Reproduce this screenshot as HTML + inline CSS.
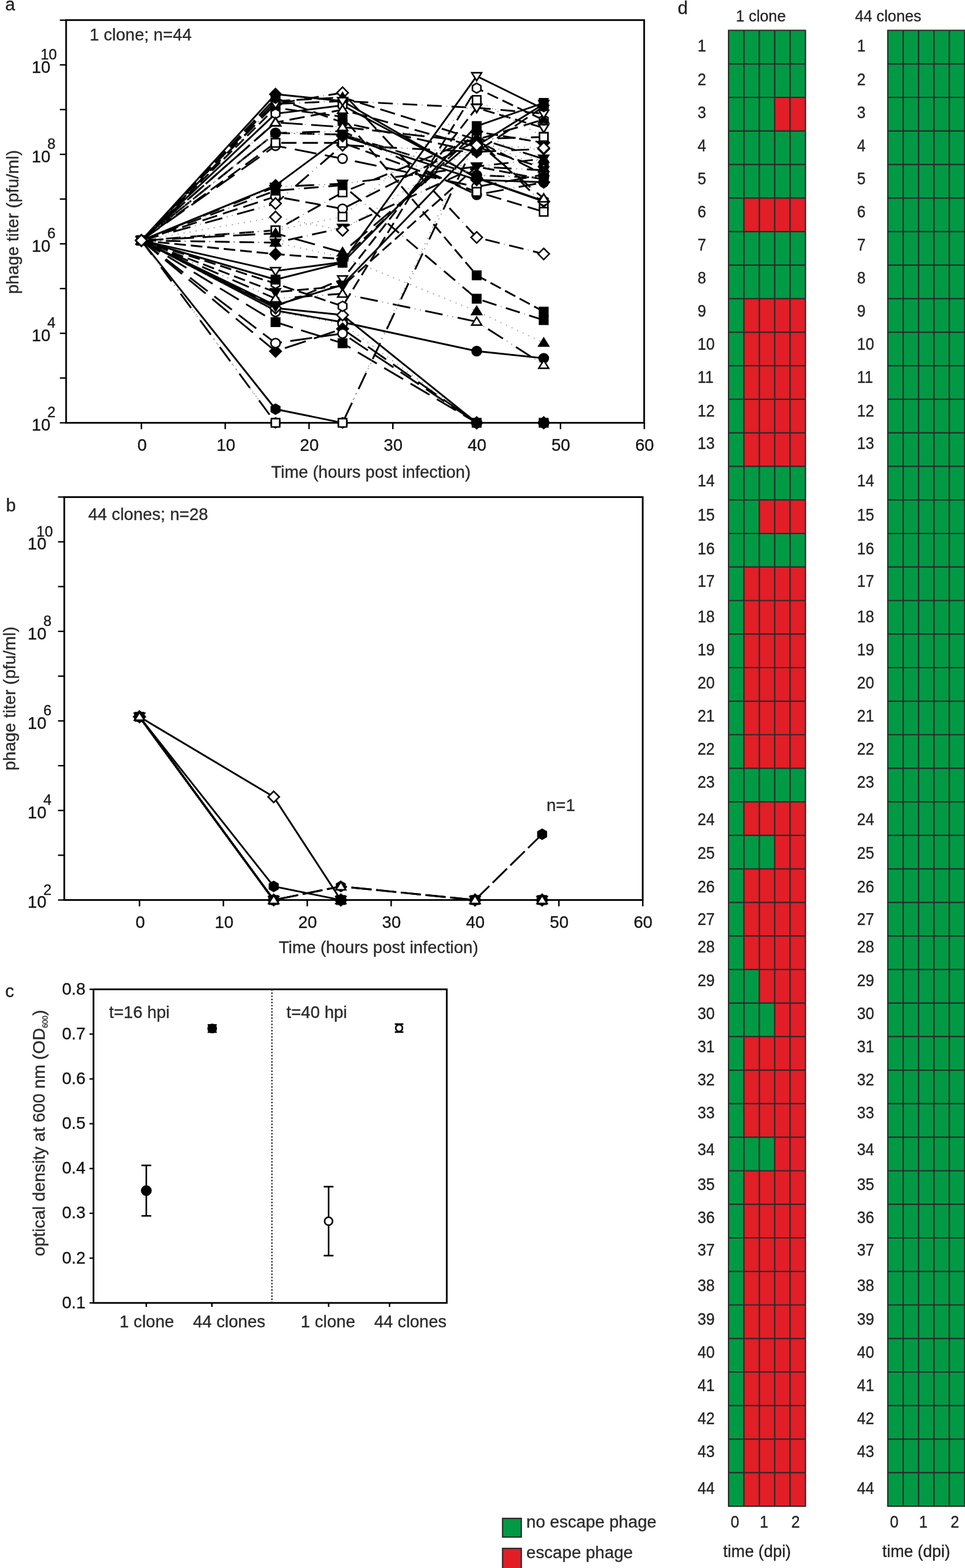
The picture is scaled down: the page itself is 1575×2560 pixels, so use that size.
<!DOCTYPE html>
<html lang="en">
<head>
<meta charset="utf-8">
<title>Figure: phage titer, optical density and escape phage</title>
<style>
html,body{margin:0;padding:0;background:#fff;}
body{width:1575px;height:2560px;overflow:hidden;}
svg{display:block;font-family:"Liberation Sans",Arial,sans-serif;}
text{stroke:#2a2a2a;stroke-width:0.35px;}
</style>
</head>
<body>
<svg width="1575" height="2560" viewBox="0 0 1575 2560">
<rect x="0" y="0" width="1575" height="2560" fill="#fff"/>
<rect x="107.9" y="32.8" width="943.4" height="657.5" fill="none" stroke="#000" stroke-width="2.8"/>
<line x1="97.7" y1="690.3" x2="107.9" y2="690.3" stroke="#000" stroke-width="2.3" stroke-linecap="butt"/>
<line x1="97.7" y1="617.2" x2="107.9" y2="617.2" stroke="#000" stroke-width="2.3" stroke-linecap="butt"/>
<line x1="97.7" y1="544.2" x2="107.9" y2="544.2" stroke="#000" stroke-width="2.3" stroke-linecap="butt"/>
<line x1="97.7" y1="471.1" x2="107.9" y2="471.1" stroke="#000" stroke-width="2.3" stroke-linecap="butt"/>
<line x1="97.7" y1="398.1" x2="107.9" y2="398.1" stroke="#000" stroke-width="2.3" stroke-linecap="butt"/>
<line x1="97.7" y1="325.0" x2="107.9" y2="325.0" stroke="#000" stroke-width="2.3" stroke-linecap="butt"/>
<line x1="97.7" y1="252.0" x2="107.9" y2="252.0" stroke="#000" stroke-width="2.3" stroke-linecap="butt"/>
<line x1="97.7" y1="178.9" x2="107.9" y2="178.9" stroke="#000" stroke-width="2.3" stroke-linecap="butt"/>
<line x1="97.7" y1="105.9" x2="107.9" y2="105.9" stroke="#000" stroke-width="2.3" stroke-linecap="butt"/>
<line x1="97.7" y1="32.9" x2="107.9" y2="32.9" stroke="#000" stroke-width="2.3" stroke-linecap="butt"/>
<line x1="230.8" y1="690.3" x2="230.8" y2="700.6" stroke="#000" stroke-width="2.4" stroke-linecap="butt"/>
<text x="232.0" y="735.8" font-size="27.6" text-anchor="middle" fill="#111">0</text>
<line x1="367.6" y1="690.3" x2="367.6" y2="700.6" stroke="#000" stroke-width="2.4" stroke-linecap="butt"/>
<text x="368.8" y="735.8" font-size="27.6" text-anchor="middle" fill="#111">10</text>
<line x1="504.4" y1="690.3" x2="504.4" y2="700.6" stroke="#000" stroke-width="2.4" stroke-linecap="butt"/>
<text x="504.9" y="735.8" font-size="27.6" text-anchor="middle" fill="#111">20</text>
<line x1="641.2" y1="690.3" x2="641.2" y2="700.6" stroke="#000" stroke-width="2.4" stroke-linecap="butt"/>
<text x="641.7" y="735.8" font-size="27.6" text-anchor="middle" fill="#111">30</text>
<line x1="778.0" y1="690.3" x2="778.0" y2="700.6" stroke="#000" stroke-width="2.4" stroke-linecap="butt"/>
<text x="778.5" y="735.8" font-size="27.6" text-anchor="middle" fill="#111">40</text>
<line x1="914.8" y1="690.3" x2="914.8" y2="700.6" stroke="#000" stroke-width="2.4" stroke-linecap="butt"/>
<text x="915.3" y="735.8" font-size="27.6" text-anchor="middle" fill="#111">50</text>
<line x1="1051.6" y1="690.3" x2="1051.6" y2="700.6" stroke="#000" stroke-width="2.4" stroke-linecap="butt"/>
<text x="1052.1" y="735.8" font-size="27.6" text-anchor="middle" fill="#111">60</text>
<text x="82.4" y="703.1" font-size="27.6" text-anchor="end" fill="#111">10</text>
<text x="90.6" y="681.4" font-size="24" text-anchor="end" fill="#111">2</text>
<text x="82.4" y="557.0" font-size="27.6" text-anchor="end" fill="#111">10</text>
<text x="90.6" y="535.3" font-size="24" text-anchor="end" fill="#111">4</text>
<text x="82.4" y="410.9" font-size="27.6" text-anchor="end" fill="#111">10</text>
<text x="90.6" y="389.2" font-size="24" text-anchor="end" fill="#111">6</text>
<text x="82.4" y="264.8" font-size="27.6" text-anchor="end" fill="#111">10</text>
<text x="90.6" y="243.1" font-size="24" text-anchor="end" fill="#111">8</text>
<text x="82.4" y="118.7" font-size="27.6" text-anchor="end" fill="#111">10</text>
<text x="92.9" y="97.0" font-size="24" text-anchor="end" fill="#111">10</text>
<text x="146.3" y="66.2" font-size="27.6" text-anchor="start" fill="#2a2a2a">1 clone; n=44</text>
<text transform="translate(30.1,362.5) rotate(-90)" font-size="28.0" text-anchor="middle" fill="#2a2a2a">phage titer (pfu/ml)</text>
<text x="605.3" y="780.0" font-size="27.6" text-anchor="middle" fill="#2a2a2a">Time (hours post infection)</text>
<rect x="104.9" y="811.6" width="944.1" height="657.8" fill="none" stroke="#000" stroke-width="2.8"/>
<line x1="94.7" y1="1469.4" x2="104.9" y2="1469.4" stroke="#000" stroke-width="2.3" stroke-linecap="butt"/>
<line x1="94.7" y1="1396.3" x2="104.9" y2="1396.3" stroke="#000" stroke-width="2.3" stroke-linecap="butt"/>
<line x1="94.7" y1="1323.2" x2="104.9" y2="1323.2" stroke="#000" stroke-width="2.3" stroke-linecap="butt"/>
<line x1="94.7" y1="1250.1" x2="104.9" y2="1250.1" stroke="#000" stroke-width="2.3" stroke-linecap="butt"/>
<line x1="94.7" y1="1177.0" x2="104.9" y2="1177.0" stroke="#000" stroke-width="2.3" stroke-linecap="butt"/>
<line x1="94.7" y1="1103.9" x2="104.9" y2="1103.9" stroke="#000" stroke-width="2.3" stroke-linecap="butt"/>
<line x1="94.7" y1="1030.8" x2="104.9" y2="1030.8" stroke="#000" stroke-width="2.3" stroke-linecap="butt"/>
<line x1="94.7" y1="957.7" x2="104.9" y2="957.7" stroke="#000" stroke-width="2.3" stroke-linecap="butt"/>
<line x1="94.7" y1="884.6" x2="104.9" y2="884.6" stroke="#000" stroke-width="2.3" stroke-linecap="butt"/>
<line x1="94.7" y1="811.5" x2="104.9" y2="811.5" stroke="#000" stroke-width="2.3" stroke-linecap="butt"/>
<line x1="227.7" y1="1469.4" x2="227.7" y2="1479.7" stroke="#000" stroke-width="2.4" stroke-linecap="butt"/>
<text x="228.9" y="1515.3" font-size="27.6" text-anchor="middle" fill="#111">0</text>
<line x1="364.6" y1="1469.4" x2="364.6" y2="1479.7" stroke="#000" stroke-width="2.4" stroke-linecap="butt"/>
<text x="365.8" y="1515.3" font-size="27.6" text-anchor="middle" fill="#111">10</text>
<line x1="501.5" y1="1469.4" x2="501.5" y2="1479.7" stroke="#000" stroke-width="2.4" stroke-linecap="butt"/>
<text x="502.0" y="1515.3" font-size="27.6" text-anchor="middle" fill="#111">20</text>
<line x1="638.4" y1="1469.4" x2="638.4" y2="1479.7" stroke="#000" stroke-width="2.4" stroke-linecap="butt"/>
<text x="638.9" y="1515.3" font-size="27.6" text-anchor="middle" fill="#111">30</text>
<line x1="775.3" y1="1469.4" x2="775.3" y2="1479.7" stroke="#000" stroke-width="2.4" stroke-linecap="butt"/>
<text x="775.8" y="1515.3" font-size="27.6" text-anchor="middle" fill="#111">40</text>
<line x1="912.2" y1="1469.4" x2="912.2" y2="1479.7" stroke="#000" stroke-width="2.4" stroke-linecap="butt"/>
<text x="912.7" y="1515.3" font-size="27.6" text-anchor="middle" fill="#111">50</text>
<line x1="1049.1" y1="1469.4" x2="1049.1" y2="1479.7" stroke="#000" stroke-width="2.4" stroke-linecap="butt"/>
<text x="1049.6" y="1515.3" font-size="27.6" text-anchor="middle" fill="#111">60</text>
<text x="75.8" y="1482.2" font-size="27.6" text-anchor="end" fill="#111">10</text>
<text x="84.0" y="1460.5" font-size="24" text-anchor="end" fill="#111">2</text>
<text x="75.8" y="1336.0" font-size="27.6" text-anchor="end" fill="#111">10</text>
<text x="84.0" y="1314.3" font-size="24" text-anchor="end" fill="#111">4</text>
<text x="75.8" y="1189.8" font-size="27.6" text-anchor="end" fill="#111">10</text>
<text x="84.0" y="1168.1" font-size="24" text-anchor="end" fill="#111">6</text>
<text x="75.8" y="1043.6" font-size="27.6" text-anchor="end" fill="#111">10</text>
<text x="84.0" y="1021.9" font-size="24" text-anchor="end" fill="#111">8</text>
<text x="75.8" y="897.4" font-size="27.6" text-anchor="end" fill="#111">10</text>
<text x="86.3" y="875.7" font-size="24" text-anchor="end" fill="#111">10</text>
<text x="144.0" y="849.3" font-size="27.6" text-anchor="start" fill="#2a2a2a">44 clones; n=28</text>
<text transform="translate(25.1,1140.5) rotate(-90)" font-size="28.0" text-anchor="middle" fill="#2a2a2a">phage titer (pfu/ml)</text>
<text x="617.8" y="1556.0" font-size="27.6" text-anchor="middle" fill="#2a2a2a">Time (hours post infection)</text>
<text x="8.5" y="17.4" font-size="29" text-anchor="start" fill="#231f20">a</text>
<text x="9.8" y="834.6" font-size="29" text-anchor="start" fill="#231f20">b</text>
<text x="8.5" y="1627.5" font-size="29" text-anchor="start" fill="#231f20">c</text>
<text x="1106.0" y="23.3" font-size="30" text-anchor="start" fill="#231f20">d</text>
<g stroke-linejoin="round" fill="none">
<polyline points="230.8,392.6 449.7,507.0 559.1,526.0 778.0,573.3 887.4,584.9" stroke="#000" stroke-width="2.9"/>
<circle cx="230.8" cy="392.6" r="7.5" fill="#000" stroke="#000" stroke-width="2.5" stroke-linejoin="miter"/>
<circle cx="449.7" cy="507.0" r="7.5" fill="#000" stroke="#000" stroke-width="2.5" stroke-linejoin="miter"/>
<circle cx="559.1" cy="526.0" r="7.5" fill="#000" stroke="#000" stroke-width="2.5" stroke-linejoin="miter"/>
<circle cx="778.0" cy="573.3" r="7.5" fill="#000" stroke="#000" stroke-width="2.5" stroke-linejoin="miter"/>
<circle cx="887.4" cy="584.9" r="7.5" fill="#000" stroke="#000" stroke-width="2.5" stroke-linejoin="miter"/>
<polyline points="230.8,392.6 449.7,509.2 559.1,528.6 778.0,690.3" stroke="#7d7d7d" stroke-width="1.7" stroke-dasharray="1.4 8.6" stroke-dashoffset="0.0"/>
<circle cx="230.8" cy="392.6" r="7.5" fill="#fff" stroke="#000" stroke-width="2.5" stroke-linejoin="miter"/>
<circle cx="449.7" cy="509.2" r="7.5" fill="#fff" stroke="#000" stroke-width="2.5" stroke-linejoin="miter"/>
<circle cx="559.1" cy="528.6" r="7.5" fill="#fff" stroke="#000" stroke-width="2.5" stroke-linejoin="miter"/>
<circle cx="778.0" cy="690.3" r="7.5" fill="#fff" stroke="#000" stroke-width="2.5" stroke-linejoin="miter"/>
<circle cx="887.4" cy="690.3" r="7.5" fill="#fff" stroke="#000" stroke-width="2.5" stroke-linejoin="miter"/>
<polyline points="230.8,392.6 449.7,477.0 559.1,467.0 778.0,272.0 887.4,293.0" stroke="#000" stroke-width="2.9" stroke-dasharray="19 8" stroke-dashoffset="0.0"/>
<polygon points="230.8,400.1 238.8,387.1 222.8,387.1" fill="#000" stroke="#000" stroke-width="2.5" stroke-linejoin="miter"/>
<polygon points="449.7,484.5 457.7,471.5 441.7,471.5" fill="#000" stroke="#000" stroke-width="2.5" stroke-linejoin="miter"/>
<polygon points="559.1,474.5 567.1,461.5 551.1,461.5" fill="#000" stroke="#000" stroke-width="2.5" stroke-linejoin="miter"/>
<polygon points="778.0,279.5 786.0,266.5 770.0,266.5" fill="#000" stroke="#000" stroke-width="2.5" stroke-linejoin="miter"/>
<polygon points="887.4,300.5 895.4,287.5 879.4,287.5" fill="#000" stroke="#000" stroke-width="2.5" stroke-linejoin="miter"/>
<polyline points="230.8,392.6 449.7,487.5 559.1,479.5 778.0,525.2 887.4,595.7" stroke="#000" stroke-width="2.9" stroke-dasharray="29 25" stroke-dashoffset="0.0"/>
<polyline points="230.8,392.6 449.7,487.5 559.1,479.5 778.0,525.2 887.4,595.7" stroke="#7d7d7d" stroke-width="1.7" stroke-dasharray="1.4 7.4 1.4 43.8" stroke-dashoffset="-36.4"/>
<polygon points="230.8,385.1 238.8,398.1 222.8,398.1" fill="#fff" stroke="#000" stroke-width="2.5" stroke-linejoin="miter"/>
<polygon points="449.7,480.0 457.7,493.0 441.7,493.0" fill="#fff" stroke="#000" stroke-width="2.5" stroke-linejoin="miter"/>
<polygon points="559.1,472.0 567.1,485.0 551.1,485.0" fill="#fff" stroke="#000" stroke-width="2.5" stroke-linejoin="miter"/>
<polygon points="778.0,517.7 786.0,530.7 770.0,530.7" fill="#fff" stroke="#000" stroke-width="2.5" stroke-linejoin="miter"/>
<polygon points="887.4,588.2 895.4,601.2 879.4,601.2" fill="#fff" stroke="#000" stroke-width="2.5" stroke-linejoin="miter"/>
<polyline points="230.8,392.6 449.7,525.9 559.1,560.4 778.0,690.3" stroke="#000" stroke-width="2.9" stroke-dasharray="36 14" stroke-dashoffset="0.0"/>
<rect x="224.0" y="385.8" width="13.6" height="13.6" fill="#000" stroke="#000" stroke-width="2.5" stroke-linejoin="miter"/>
<rect x="442.9" y="519.1" width="13.6" height="13.6" fill="#000" stroke="#000" stroke-width="2.5" stroke-linejoin="miter"/>
<rect x="552.3" y="553.6" width="13.6" height="13.6" fill="#000" stroke="#000" stroke-width="2.5" stroke-linejoin="miter"/>
<rect x="771.2" y="683.5" width="13.6" height="13.6" fill="#000" stroke="#000" stroke-width="2.5" stroke-linejoin="miter"/>
<rect x="880.6" y="683.5" width="13.6" height="13.6" fill="#000" stroke="#000" stroke-width="2.5" stroke-linejoin="miter"/>
<polyline points="230.8,392.6 449.7,376.0 559.1,314.1 778.0,225.0 887.4,333.7" stroke="#000" stroke-width="2.9" stroke-dasharray="24 16" stroke-dashoffset="0.0"/>
<polyline points="230.8,392.6 449.7,376.0 559.1,314.1 778.0,225.0 887.4,333.7" stroke="#7d7d7d" stroke-width="1.7" stroke-dasharray="1.4 38.6" stroke-dashoffset="-31.3"/>
<rect x="224.0" y="385.8" width="13.6" height="13.6" fill="#fff" stroke="#000" stroke-width="2.5" stroke-linejoin="miter"/>
<rect x="442.9" y="369.2" width="13.6" height="13.6" fill="#fff" stroke="#000" stroke-width="2.5" stroke-linejoin="miter"/>
<rect x="552.3" y="307.3" width="13.6" height="13.6" fill="#fff" stroke="#000" stroke-width="2.5" stroke-linejoin="miter"/>
<rect x="771.2" y="218.2" width="13.6" height="13.6" fill="#fff" stroke="#000" stroke-width="2.5" stroke-linejoin="miter"/>
<rect x="880.6" y="326.9" width="13.6" height="13.6" fill="#fff" stroke="#000" stroke-width="2.5" stroke-linejoin="miter"/>
<polyline points="230.8,392.6 449.7,414.9 559.1,423.0 778.0,215.0 887.4,233.1" stroke="#000" stroke-width="2.9" stroke-dasharray="19 8" stroke-dashoffset="0.0"/>
<polygon points="230.8,383.4 240.0,392.6 230.8,401.8 221.6,392.6" fill="#000" stroke="#000" stroke-width="2.5" stroke-linejoin="miter"/>
<polygon points="449.7,405.7 458.9,414.9 449.7,424.1 440.5,414.9" fill="#000" stroke="#000" stroke-width="2.5" stroke-linejoin="miter"/>
<polygon points="559.1,413.8 568.3,423.0 559.1,432.2 549.9,423.0" fill="#000" stroke="#000" stroke-width="2.5" stroke-linejoin="miter"/>
<polygon points="778.0,205.8 787.2,215.0 778.0,224.2 768.8,215.0" fill="#000" stroke="#000" stroke-width="2.5" stroke-linejoin="miter"/>
<polygon points="887.4,223.9 896.6,233.1 887.4,242.3 878.2,233.1" fill="#000" stroke="#000" stroke-width="2.5" stroke-linejoin="miter"/>
<polyline points="230.8,392.6 449.7,503.0 559.1,514.3 778.0,690.3" stroke="#000" stroke-width="2.9"/>
<polygon points="230.8,383.4 240.0,392.6 230.8,401.8 221.6,392.6" fill="#fff" stroke="#000" stroke-width="2.5" stroke-linejoin="miter"/>
<polygon points="449.7,493.8 458.9,503.0 449.7,512.2 440.5,503.0" fill="#fff" stroke="#000" stroke-width="2.5" stroke-linejoin="miter"/>
<polygon points="559.1,505.1 568.3,514.3 559.1,523.5 549.9,514.3" fill="#fff" stroke="#000" stroke-width="2.5" stroke-linejoin="miter"/>
<polygon points="778.0,681.1 787.2,690.3 778.0,699.5 768.8,690.3" fill="#fff" stroke="#000" stroke-width="2.5" stroke-linejoin="miter"/>
<polygon points="887.4,681.1 896.6,690.3 887.4,699.5 878.2,690.3" fill="#fff" stroke="#000" stroke-width="2.5" stroke-linejoin="miter"/>
<polyline points="230.8,392.6 449.7,396.0 559.1,420.0 778.0,508.0 887.4,559.6" stroke="#7d7d7d" stroke-width="1.7" stroke-dasharray="1.4 8.6" stroke-dashoffset="0.0"/>
<polygon points="230.8,385.1 238.8,398.1 222.8,398.1" fill="#000" stroke="#000" stroke-width="2.5" stroke-linejoin="miter"/>
<polygon points="449.7,388.5 457.7,401.5 441.7,401.5" fill="#000" stroke="#000" stroke-width="2.5" stroke-linejoin="miter"/>
<polygon points="559.1,412.5 567.1,425.5 551.1,425.5" fill="#000" stroke="#000" stroke-width="2.5" stroke-linejoin="miter"/>
<polygon points="778.0,500.5 786.0,513.5 770.0,513.5" fill="#000" stroke="#000" stroke-width="2.5" stroke-linejoin="miter"/>
<polygon points="887.4,552.1 895.4,565.1 879.4,565.1" fill="#000" stroke="#000" stroke-width="2.5" stroke-linejoin="miter"/>
<polyline points="230.8,392.6 449.7,500.5 559.1,456.0 778.0,176.0 887.4,209.0" stroke="#000" stroke-width="2.9" stroke-dasharray="19 8" stroke-dashoffset="0.0"/>
<polygon points="230.8,400.1 238.8,387.1 222.8,387.1" fill="#fff" stroke="#000" stroke-width="2.5" stroke-linejoin="miter"/>
<polygon points="449.7,508.0 457.7,495.0 441.7,495.0" fill="#fff" stroke="#000" stroke-width="2.5" stroke-linejoin="miter"/>
<polygon points="559.1,463.5 567.1,450.5 551.1,450.5" fill="#fff" stroke="#000" stroke-width="2.5" stroke-linejoin="miter"/>
<polygon points="778.0,183.5 786.0,170.5 770.0,170.5" fill="#fff" stroke="#000" stroke-width="2.5" stroke-linejoin="miter"/>
<polygon points="887.4,216.5 895.4,203.5 879.4,203.5" fill="#fff" stroke="#000" stroke-width="2.5" stroke-linejoin="miter"/>
<polyline points="230.8,392.6 449.7,668.0 559.1,690.3" stroke="#000" stroke-width="2.9"/>
<polygon points="230.8,384.6 223.9,388.6 223.9,396.6 230.8,400.6 237.7,396.6 237.7,388.6" fill="#000" stroke="#000" stroke-width="2.5" stroke-linejoin="miter"/>
<polygon points="449.7,660.0 442.8,664.0 442.8,672.0 449.7,676.0 456.6,672.0 456.6,664.0" fill="#000" stroke="#000" stroke-width="2.5" stroke-linejoin="miter"/>
<polygon points="559.1,682.3 552.2,686.3 552.2,694.3 559.1,698.3 566.0,694.3 566.0,686.3" fill="#000" stroke="#000" stroke-width="2.5" stroke-linejoin="miter"/>
<polygon points="778.0,682.3 771.1,686.3 771.1,694.3 778.0,698.3 784.9,694.3 784.9,686.3" fill="#000" stroke="#000" stroke-width="2.5" stroke-linejoin="miter"/>
<polygon points="887.4,682.3 880.5,686.3 880.5,694.3 887.4,698.3 894.4,694.3 894.4,686.3" fill="#000" stroke="#000" stroke-width="2.5" stroke-linejoin="miter"/>
<polyline points="230.8,392.6 449.7,690.3" stroke="#7d7d7d" stroke-width="1.7" stroke-dasharray="1.4 8.6" stroke-dashoffset="0.0"/>
<polyline points="559.1,690.3 778.0,215.0 887.4,267.0" stroke="#7d7d7d" stroke-width="1.7" stroke-dasharray="1.4 8.6" stroke-dashoffset="478.9"/>
<polygon points="230.8,384.6 223.9,388.6 223.9,396.6 230.8,400.6 237.7,396.6 237.7,388.6" fill="#000" stroke="#000" stroke-width="2.5" stroke-linejoin="miter"/>
<polygon points="449.7,682.3 442.8,686.3 442.8,694.3 449.7,698.3 456.6,694.3 456.6,686.3" fill="#000" stroke="#000" stroke-width="2.5" stroke-linejoin="miter"/>
<polygon points="559.1,682.3 552.2,686.3 552.2,694.3 559.1,698.3 566.0,694.3 566.0,686.3" fill="#000" stroke="#000" stroke-width="2.5" stroke-linejoin="miter"/>
<polygon points="778.0,207.0 771.1,211.0 771.1,219.0 778.0,223.0 784.9,219.0 784.9,211.0" fill="#000" stroke="#000" stroke-width="2.5" stroke-linejoin="miter"/>
<polygon points="887.4,259.0 880.5,263.0 880.5,271.0 887.4,275.0 894.4,271.0 894.4,263.0" fill="#000" stroke="#000" stroke-width="2.5" stroke-linejoin="miter"/>
<polyline points="230.8,392.6 449.7,463.0 559.1,500.0 778.0,143.9 887.4,196.0" stroke="#000" stroke-width="2.9" stroke-dasharray="19 8" stroke-dashoffset="0.0"/>
<polygon points="230.8,384.6 223.9,388.6 223.9,396.6 230.8,400.6 237.7,396.6 237.7,388.6" fill="#fff" stroke="#000" stroke-width="2.5" stroke-linejoin="miter"/>
<polygon points="449.7,455.0 442.8,459.0 442.8,467.0 449.7,471.0 456.6,467.0 456.6,459.0" fill="#fff" stroke="#000" stroke-width="2.5" stroke-linejoin="miter"/>
<polygon points="559.1,492.0 552.2,496.0 552.2,504.0 559.1,508.0 566.0,504.0 566.0,496.0" fill="#fff" stroke="#000" stroke-width="2.5" stroke-linejoin="miter"/>
<polygon points="778.0,135.9 771.1,139.9 771.1,147.9 778.0,151.9 784.9,147.9 784.9,139.9" fill="#fff" stroke="#000" stroke-width="2.5" stroke-linejoin="miter"/>
<polygon points="887.4,188.0 880.5,192.0 880.5,200.0 887.4,204.0 894.4,200.0 894.4,192.0" fill="#fff" stroke="#000" stroke-width="2.5" stroke-linejoin="miter"/>
<polyline points="230.8,392.6 449.7,217.3 559.1,219.7 778.0,286.2 887.4,290.3" stroke="#000" stroke-width="2.9" stroke-dasharray="24 16" stroke-dashoffset="0.0"/>
<polyline points="230.8,392.6 449.7,217.3 559.1,219.7 778.0,286.2 887.4,290.3" stroke="#7d7d7d" stroke-width="1.7" stroke-dasharray="1.4 38.6" stroke-dashoffset="-31.3"/>
<circle cx="230.8" cy="392.6" r="7.5" fill="#000" stroke="#000" stroke-width="2.5" stroke-linejoin="miter"/>
<circle cx="449.7" cy="217.3" r="7.5" fill="#000" stroke="#000" stroke-width="2.5" stroke-linejoin="miter"/>
<circle cx="559.1" cy="219.7" r="7.5" fill="#000" stroke="#000" stroke-width="2.5" stroke-linejoin="miter"/>
<circle cx="778.0" cy="286.2" r="7.5" fill="#000" stroke="#000" stroke-width="2.5" stroke-linejoin="miter"/>
<circle cx="887.4" cy="290.3" r="7.5" fill="#000" stroke="#000" stroke-width="2.5" stroke-linejoin="miter"/>
<polyline points="230.8,392.6 449.7,320.8 559.1,341.0 778.0,230.0 887.4,285.0" stroke="#000" stroke-width="2.9" stroke-dasharray="25 10" stroke-dashoffset="0.0"/>
<circle cx="230.8" cy="392.6" r="7.5" fill="#fff" stroke="#000" stroke-width="2.5" stroke-linejoin="miter"/>
<circle cx="449.7" cy="320.8" r="7.5" fill="#fff" stroke="#000" stroke-width="2.5" stroke-linejoin="miter"/>
<circle cx="559.1" cy="341.0" r="7.5" fill="#fff" stroke="#000" stroke-width="2.5" stroke-linejoin="miter"/>
<circle cx="778.0" cy="230.0" r="7.5" fill="#fff" stroke="#000" stroke-width="2.5" stroke-linejoin="miter"/>
<circle cx="887.4" cy="285.0" r="7.5" fill="#fff" stroke="#000" stroke-width="2.5" stroke-linejoin="miter"/>
<polyline points="230.8,392.6 449.7,498.5 559.1,465.0 778.0,238.0 887.4,170.0" stroke="#000" stroke-width="2.9"/>
<polygon points="230.8,400.1 238.8,387.1 222.8,387.1" fill="#000" stroke="#000" stroke-width="2.5" stroke-linejoin="miter"/>
<polygon points="449.7,506.0 457.7,493.0 441.7,493.0" fill="#000" stroke="#000" stroke-width="2.5" stroke-linejoin="miter"/>
<polygon points="559.1,472.5 567.1,459.5 551.1,459.5" fill="#000" stroke="#000" stroke-width="2.5" stroke-linejoin="miter"/>
<polygon points="778.0,245.5 786.0,232.5 770.0,232.5" fill="#000" stroke="#000" stroke-width="2.5" stroke-linejoin="miter"/>
<polygon points="887.4,177.5 895.4,164.5 879.4,164.5" fill="#000" stroke="#000" stroke-width="2.5" stroke-linejoin="miter"/>
<polyline points="230.8,392.6 449.7,199.8 559.1,207.4 778.0,228.0 887.4,274.4" stroke="#7d7d7d" stroke-width="1.7" stroke-dasharray="1.4 8.6" stroke-dashoffset="0.0"/>
<polygon points="230.8,385.1 238.8,398.1 222.8,398.1" fill="#fff" stroke="#000" stroke-width="2.5" stroke-linejoin="miter"/>
<polygon points="449.7,192.3 457.7,205.3 441.7,205.3" fill="#fff" stroke="#000" stroke-width="2.5" stroke-linejoin="miter"/>
<polygon points="559.1,199.9 567.1,212.9 551.1,212.9" fill="#fff" stroke="#000" stroke-width="2.5" stroke-linejoin="miter"/>
<polygon points="778.0,220.5 786.0,233.5 770.0,233.5" fill="#fff" stroke="#000" stroke-width="2.5" stroke-linejoin="miter"/>
<polygon points="887.4,266.9 895.4,279.9 879.4,279.9" fill="#fff" stroke="#000" stroke-width="2.5" stroke-linejoin="miter"/>
<polyline points="230.8,392.6 449.7,176.0 559.1,190.7 778.0,449.5 887.4,508.8" stroke="#000" stroke-width="2.9" stroke-dasharray="19 8" stroke-dashoffset="0.0"/>
<rect x="224.0" y="385.8" width="13.6" height="13.6" fill="#000" stroke="#000" stroke-width="2.5" stroke-linejoin="miter"/>
<rect x="442.9" y="169.2" width="13.6" height="13.6" fill="#000" stroke="#000" stroke-width="2.5" stroke-linejoin="miter"/>
<rect x="552.3" y="183.9" width="13.6" height="13.6" fill="#000" stroke="#000" stroke-width="2.5" stroke-linejoin="miter"/>
<rect x="771.2" y="442.7" width="13.6" height="13.6" fill="#000" stroke="#000" stroke-width="2.5" stroke-linejoin="miter"/>
<rect x="880.6" y="502.0" width="13.6" height="13.6" fill="#000" stroke="#000" stroke-width="2.5" stroke-linejoin="miter"/>
<polyline points="230.8,392.6 449.7,690.3" stroke="#000" stroke-width="2.9" stroke-dasharray="29 25" stroke-dashoffset="0.0"/>
<polyline points="230.8,392.6 449.7,690.3" stroke="#7d7d7d" stroke-width="1.7" stroke-dasharray="1.4 7.4 1.4 43.8" stroke-dashoffset="-36.4"/>
<polyline points="559.1,690.3 778.0,227.0 887.4,223.6" stroke="#000" stroke-width="2.9" stroke-dasharray="29 25" stroke-dashoffset="478.9"/>
<polyline points="559.1,690.3 778.0,227.0 887.4,223.6" stroke="#7d7d7d" stroke-width="1.7" stroke-dasharray="1.4 7.4 1.4 43.8" stroke-dashoffset="442.5"/>
<rect x="224.0" y="385.8" width="13.6" height="13.6" fill="#fff" stroke="#000" stroke-width="2.5" stroke-linejoin="miter"/>
<rect x="442.9" y="683.5" width="13.6" height="13.6" fill="#fff" stroke="#000" stroke-width="2.5" stroke-linejoin="miter"/>
<rect x="552.3" y="683.5" width="13.6" height="13.6" fill="#fff" stroke="#000" stroke-width="2.5" stroke-linejoin="miter"/>
<rect x="771.2" y="220.2" width="13.6" height="13.6" fill="#fff" stroke="#000" stroke-width="2.5" stroke-linejoin="miter"/>
<rect x="880.6" y="216.8" width="13.6" height="13.6" fill="#fff" stroke="#000" stroke-width="2.5" stroke-linejoin="miter"/>
<polyline points="230.8,392.6 449.7,153.8 559.1,165.0 778.0,291.0 887.4,329.0" stroke="#000" stroke-width="2.9"/>
<polygon points="230.8,383.4 240.0,392.6 230.8,401.8 221.6,392.6" fill="#000" stroke="#000" stroke-width="2.5" stroke-linejoin="miter"/>
<polygon points="449.7,144.6 458.9,153.8 449.7,163.0 440.5,153.8" fill="#000" stroke="#000" stroke-width="2.5" stroke-linejoin="miter"/>
<polygon points="559.1,155.8 568.3,165.0 559.1,174.2 549.9,165.0" fill="#000" stroke="#000" stroke-width="2.5" stroke-linejoin="miter"/>
<polygon points="778.0,281.8 787.2,291.0 778.0,300.2 768.8,291.0" fill="#000" stroke="#000" stroke-width="2.5" stroke-linejoin="miter"/>
<polygon points="887.4,319.8 896.6,329.0 887.4,338.2 878.2,329.0" fill="#000" stroke="#000" stroke-width="2.5" stroke-linejoin="miter"/>
<polyline points="230.8,392.6 449.7,169.7 559.1,151.4 778.0,387.6 887.4,414.6" stroke="#000" stroke-width="2.9" stroke-dasharray="24 16" stroke-dashoffset="0.0"/>
<polyline points="230.8,392.6 449.7,169.7 559.1,151.4 778.0,387.6 887.4,414.6" stroke="#7d7d7d" stroke-width="1.7" stroke-dasharray="1.4 38.6" stroke-dashoffset="-31.3"/>
<polygon points="230.8,383.4 240.0,392.6 230.8,401.8 221.6,392.6" fill="#fff" stroke="#000" stroke-width="2.5" stroke-linejoin="miter"/>
<polygon points="449.7,160.5 458.9,169.7 449.7,178.9 440.5,169.7" fill="#fff" stroke="#000" stroke-width="2.5" stroke-linejoin="miter"/>
<polygon points="559.1,142.2 568.3,151.4 559.1,160.6 549.9,151.4" fill="#fff" stroke="#000" stroke-width="2.5" stroke-linejoin="miter"/>
<polygon points="778.0,378.4 787.2,387.6 778.0,396.8 768.8,387.6" fill="#fff" stroke="#000" stroke-width="2.5" stroke-linejoin="miter"/>
<polygon points="887.4,405.4 896.6,414.6 887.4,423.8 878.2,414.6" fill="#fff" stroke="#000" stroke-width="2.5" stroke-linejoin="miter"/>
<polyline points="230.8,392.6 449.7,165.0 559.1,159.0 778.0,228.0 887.4,195.0" stroke="#000" stroke-width="2.9" stroke-dasharray="25 10" stroke-dashoffset="0.0"/>
<polygon points="230.8,385.1 238.8,398.1 222.8,398.1" fill="#000" stroke="#000" stroke-width="2.5" stroke-linejoin="miter"/>
<polygon points="449.7,157.5 457.7,170.5 441.7,170.5" fill="#000" stroke="#000" stroke-width="2.5" stroke-linejoin="miter"/>
<polygon points="559.1,151.5 567.1,164.5 551.1,164.5" fill="#000" stroke="#000" stroke-width="2.5" stroke-linejoin="miter"/>
<polygon points="778.0,220.5 786.0,233.5 770.0,233.5" fill="#000" stroke="#000" stroke-width="2.5" stroke-linejoin="miter"/>
<polygon points="887.4,187.5 895.4,200.5 879.4,200.5" fill="#000" stroke="#000" stroke-width="2.5" stroke-linejoin="miter"/>
<polyline points="230.8,392.6 449.7,442.4 559.1,428.0 778.0,124.3 887.4,178.0" stroke="#000" stroke-width="2.9"/>
<polygon points="230.8,400.1 238.8,387.1 222.8,387.1" fill="#fff" stroke="#000" stroke-width="2.5" stroke-linejoin="miter"/>
<polygon points="449.7,449.9 457.7,436.9 441.7,436.9" fill="#fff" stroke="#000" stroke-width="2.5" stroke-linejoin="miter"/>
<polygon points="559.1,435.5 567.1,422.5 551.1,422.5" fill="#fff" stroke="#000" stroke-width="2.5" stroke-linejoin="miter"/>
<polygon points="778.0,131.8 786.0,118.8 770.0,118.8" fill="#fff" stroke="#000" stroke-width="2.5" stroke-linejoin="miter"/>
<polygon points="887.4,185.5 895.4,172.5 879.4,172.5" fill="#fff" stroke="#000" stroke-width="2.5" stroke-linejoin="miter"/>
<polyline points="230.8,392.6 449.7,185.6 559.1,172.0 778.0,290.0 887.4,328.0" stroke="#000" stroke-width="2.9"/>
<polygon points="230.8,384.6 223.9,388.6 223.9,396.6 230.8,400.6 237.7,396.6 237.7,388.6" fill="#fff" stroke="#000" stroke-width="2.5" stroke-linejoin="miter"/>
<polygon points="449.7,177.6 442.8,181.6 442.8,189.6 449.7,193.6 456.6,189.6 456.6,181.6" fill="#fff" stroke="#000" stroke-width="2.5" stroke-linejoin="miter"/>
<polygon points="559.1,164.0 552.2,168.0 552.2,176.0 559.1,180.0 566.0,176.0 566.0,168.0" fill="#fff" stroke="#000" stroke-width="2.5" stroke-linejoin="miter"/>
<polygon points="778.0,282.0 771.1,286.0 771.1,294.0 778.0,298.0 784.9,294.0 784.9,286.0" fill="#fff" stroke="#000" stroke-width="2.5" stroke-linejoin="miter"/>
<polygon points="887.4,320.0 880.5,324.0 880.5,332.0 887.4,336.0 894.4,332.0 894.4,324.0" fill="#fff" stroke="#000" stroke-width="2.5" stroke-linejoin="miter"/>
<polyline points="230.8,392.6 449.7,217.3 559.1,214.0 778.0,318.0 887.4,297.7" stroke="#000" stroke-width="2.9" stroke-dasharray="29 25" stroke-dashoffset="0.0"/>
<polyline points="230.8,392.6 449.7,217.3 559.1,214.0 778.0,318.0 887.4,297.7" stroke="#7d7d7d" stroke-width="1.7" stroke-dasharray="1.4 7.4 1.4 43.8" stroke-dashoffset="-36.4"/>
<circle cx="230.8" cy="392.6" r="7.5" fill="#000" stroke="#000" stroke-width="2.5" stroke-linejoin="miter"/>
<circle cx="449.7" cy="217.3" r="7.5" fill="#000" stroke="#000" stroke-width="2.5" stroke-linejoin="miter"/>
<circle cx="559.1" cy="214.0" r="7.5" fill="#000" stroke="#000" stroke-width="2.5" stroke-linejoin="miter"/>
<circle cx="778.0" cy="318.0" r="7.5" fill="#000" stroke="#000" stroke-width="2.5" stroke-linejoin="miter"/>
<circle cx="887.4" cy="297.7" r="7.5" fill="#000" stroke="#000" stroke-width="2.5" stroke-linejoin="miter"/>
<polyline points="230.8,392.6 449.7,237.9 559.1,259.0 778.0,305.0 887.4,285.0" stroke="#000" stroke-width="2.9" stroke-dasharray="36 14" stroke-dashoffset="0.0"/>
<circle cx="230.8" cy="392.6" r="7.5" fill="#fff" stroke="#000" stroke-width="2.5" stroke-linejoin="miter"/>
<circle cx="449.7" cy="237.9" r="7.5" fill="#fff" stroke="#000" stroke-width="2.5" stroke-linejoin="miter"/>
<circle cx="559.1" cy="259.0" r="7.5" fill="#fff" stroke="#000" stroke-width="2.5" stroke-linejoin="miter"/>
<circle cx="778.0" cy="305.0" r="7.5" fill="#fff" stroke="#000" stroke-width="2.5" stroke-linejoin="miter"/>
<circle cx="887.4" cy="285.0" r="7.5" fill="#fff" stroke="#000" stroke-width="2.5" stroke-linejoin="miter"/>
<polyline points="230.8,392.6 449.7,396.2 559.1,372.0 778.0,272.0 887.4,259.0" stroke="#000" stroke-width="2.9" stroke-dasharray="24 16" stroke-dashoffset="0.0"/>
<polyline points="230.8,392.6 449.7,396.2 559.1,372.0 778.0,272.0 887.4,259.0" stroke="#7d7d7d" stroke-width="1.7" stroke-dasharray="1.4 38.6" stroke-dashoffset="-31.3"/>
<polygon points="230.8,400.1 238.8,387.1 222.8,387.1" fill="#000" stroke="#000" stroke-width="2.5" stroke-linejoin="miter"/>
<polygon points="449.7,403.7 457.7,390.7 441.7,390.7" fill="#000" stroke="#000" stroke-width="2.5" stroke-linejoin="miter"/>
<polygon points="559.1,379.5 567.1,366.5 551.1,366.5" fill="#000" stroke="#000" stroke-width="2.5" stroke-linejoin="miter"/>
<polygon points="778.0,279.5 786.0,266.5 770.0,266.5" fill="#000" stroke="#000" stroke-width="2.5" stroke-linejoin="miter"/>
<polygon points="887.4,266.5 895.4,253.5 879.4,253.5" fill="#000" stroke="#000" stroke-width="2.5" stroke-linejoin="miter"/>
<polyline points="230.8,392.6 449.7,199.8 559.1,179.2 778.0,240.0 887.4,274.4" stroke="#000" stroke-width="2.9" stroke-dasharray="25 10" stroke-dashoffset="0.0"/>
<polygon points="230.8,385.1 238.8,398.1 222.8,398.1" fill="#fff" stroke="#000" stroke-width="2.5" stroke-linejoin="miter"/>
<polygon points="449.7,192.3 457.7,205.3 441.7,205.3" fill="#fff" stroke="#000" stroke-width="2.5" stroke-linejoin="miter"/>
<polygon points="559.1,171.7 567.1,184.7 551.1,184.7" fill="#fff" stroke="#000" stroke-width="2.5" stroke-linejoin="miter"/>
<polygon points="778.0,232.5 786.0,245.5 770.0,245.5" fill="#fff" stroke="#000" stroke-width="2.5" stroke-linejoin="miter"/>
<polygon points="887.4,266.9 895.4,279.9 879.4,279.9" fill="#fff" stroke="#000" stroke-width="2.5" stroke-linejoin="miter"/>
<polyline points="230.8,392.6 449.7,456.5 559.1,429.0 778.0,205.8 887.4,168.0" stroke="#000" stroke-width="2.9"/>
<rect x="224.0" y="385.8" width="13.6" height="13.6" fill="#000" stroke="#000" stroke-width="2.5" stroke-linejoin="miter"/>
<rect x="442.9" y="449.7" width="13.6" height="13.6" fill="#000" stroke="#000" stroke-width="2.5" stroke-linejoin="miter"/>
<rect x="552.3" y="422.2" width="13.6" height="13.6" fill="#000" stroke="#000" stroke-width="2.5" stroke-linejoin="miter"/>
<rect x="771.2" y="199.0" width="13.6" height="13.6" fill="#000" stroke="#000" stroke-width="2.5" stroke-linejoin="miter"/>
<rect x="880.6" y="161.2" width="13.6" height="13.6" fill="#000" stroke="#000" stroke-width="2.5" stroke-linejoin="miter"/>
<polyline points="230.8,392.6 449.7,376.0 559.1,353.8 778.0,163.2 887.4,223.6" stroke="#7d7d7d" stroke-width="1.7" stroke-dasharray="1.4 8.6" stroke-dashoffset="0.0"/>
<rect x="224.0" y="385.8" width="13.6" height="13.6" fill="#fff" stroke="#000" stroke-width="2.5" stroke-linejoin="miter"/>
<rect x="442.9" y="369.2" width="13.6" height="13.6" fill="#fff" stroke="#000" stroke-width="2.5" stroke-linejoin="miter"/>
<rect x="552.3" y="347.0" width="13.6" height="13.6" fill="#fff" stroke="#000" stroke-width="2.5" stroke-linejoin="miter"/>
<rect x="771.2" y="156.4" width="13.6" height="13.6" fill="#fff" stroke="#000" stroke-width="2.5" stroke-linejoin="miter"/>
<rect x="880.6" y="216.8" width="13.6" height="13.6" fill="#fff" stroke="#000" stroke-width="2.5" stroke-linejoin="miter"/>
<polyline points="230.8,392.6 449.7,573.5 559.1,537.0 778.0,690.3" stroke="#000" stroke-width="2.9" stroke-dasharray="36 14" stroke-dashoffset="0.0"/>
<polygon points="230.8,383.4 240.0,392.6 230.8,401.8 221.6,392.6" fill="#000" stroke="#000" stroke-width="2.5" stroke-linejoin="miter"/>
<polygon points="449.7,564.3 458.9,573.5 449.7,582.7 440.5,573.5" fill="#000" stroke="#000" stroke-width="2.5" stroke-linejoin="miter"/>
<polygon points="559.1,527.8 568.3,537.0 559.1,546.2 549.9,537.0" fill="#000" stroke="#000" stroke-width="2.5" stroke-linejoin="miter"/>
<polygon points="778.0,681.1 787.2,690.3 778.0,699.5 768.8,690.3" fill="#000" stroke="#000" stroke-width="2.5" stroke-linejoin="miter"/>
<polygon points="887.4,681.1 896.6,690.3 887.4,699.5 878.2,690.3" fill="#000" stroke="#000" stroke-width="2.5" stroke-linejoin="miter"/>
<polyline points="230.8,392.6 449.7,332.3 559.1,237.0 778.0,248.0 887.4,243.0" stroke="#000" stroke-width="2.9" stroke-dasharray="29 25" stroke-dashoffset="0.0"/>
<polyline points="230.8,392.6 449.7,332.3 559.1,237.0 778.0,248.0 887.4,243.0" stroke="#7d7d7d" stroke-width="1.7" stroke-dasharray="1.4 7.4 1.4 43.8" stroke-dashoffset="-36.4"/>
<polygon points="230.8,383.4 240.0,392.6 230.8,401.8 221.6,392.6" fill="#fff" stroke="#000" stroke-width="2.5" stroke-linejoin="miter"/>
<polygon points="449.7,323.1 458.9,332.3 449.7,341.5 440.5,332.3" fill="#fff" stroke="#000" stroke-width="2.5" stroke-linejoin="miter"/>
<polygon points="559.1,227.8 568.3,237.0 559.1,246.2 549.9,237.0" fill="#fff" stroke="#000" stroke-width="2.5" stroke-linejoin="miter"/>
<polygon points="778.0,238.8 787.2,248.0 778.0,257.2 768.8,248.0" fill="#fff" stroke="#000" stroke-width="2.5" stroke-linejoin="miter"/>
<polygon points="887.4,233.8 896.6,243.0 887.4,252.2 878.2,243.0" fill="#fff" stroke="#000" stroke-width="2.5" stroke-linejoin="miter"/>
<polyline points="230.8,392.6 449.7,381.0 559.1,412.0 778.0,225.0 887.4,259.6" stroke="#000" stroke-width="2.9" stroke-dasharray="36 14" stroke-dashoffset="0.0"/>
<polygon points="230.8,385.1 238.8,398.1 222.8,398.1" fill="#000" stroke="#000" stroke-width="2.5" stroke-linejoin="miter"/>
<polygon points="449.7,373.5 457.7,386.5 441.7,386.5" fill="#000" stroke="#000" stroke-width="2.5" stroke-linejoin="miter"/>
<polygon points="559.1,404.5 567.1,417.5 551.1,417.5" fill="#000" stroke="#000" stroke-width="2.5" stroke-linejoin="miter"/>
<polygon points="778.0,217.5 786.0,230.5 770.0,230.5" fill="#000" stroke="#000" stroke-width="2.5" stroke-linejoin="miter"/>
<polygon points="887.4,252.1 895.4,265.1 879.4,265.1" fill="#000" stroke="#000" stroke-width="2.5" stroke-linejoin="miter"/>
<polyline points="230.8,392.6 449.7,169.7 559.1,165.0 778.0,176.0 887.4,185.5" stroke="#000" stroke-width="2.9" stroke-dasharray="24 16" stroke-dashoffset="0.0"/>
<polyline points="230.8,392.6 449.7,169.7 559.1,165.0 778.0,176.0 887.4,185.5" stroke="#7d7d7d" stroke-width="1.7" stroke-dasharray="1.4 38.6" stroke-dashoffset="-31.3"/>
<polygon points="230.8,400.1 238.8,387.1 222.8,387.1" fill="#fff" stroke="#000" stroke-width="2.5" stroke-linejoin="miter"/>
<polygon points="449.7,177.2 457.7,164.2 441.7,164.2" fill="#fff" stroke="#000" stroke-width="2.5" stroke-linejoin="miter"/>
<polygon points="559.1,172.5 567.1,159.5 551.1,159.5" fill="#fff" stroke="#000" stroke-width="2.5" stroke-linejoin="miter"/>
<polygon points="778.0,183.5 786.0,170.5 770.0,170.5" fill="#fff" stroke="#000" stroke-width="2.5" stroke-linejoin="miter"/>
<polygon points="887.4,193.0 895.4,180.0 879.4,180.0" fill="#fff" stroke="#000" stroke-width="2.5" stroke-linejoin="miter"/>
<polyline points="230.8,392.6 449.7,160.2 559.1,200.0 778.0,248.0 887.4,174.0" stroke="#000" stroke-width="2.9" stroke-dasharray="25 10" stroke-dashoffset="0.0"/>
<polygon points="230.8,384.6 223.9,388.6 223.9,396.6 230.8,400.6 237.7,396.6 237.7,388.6" fill="#000" stroke="#000" stroke-width="2.5" stroke-linejoin="miter"/>
<polygon points="449.7,152.2 442.8,156.2 442.8,164.2 449.7,168.2 456.6,164.2 456.6,156.2" fill="#000" stroke="#000" stroke-width="2.5" stroke-linejoin="miter"/>
<polygon points="559.1,192.0 552.2,196.0 552.2,204.0 559.1,208.0 566.0,204.0 566.0,196.0" fill="#000" stroke="#000" stroke-width="2.5" stroke-linejoin="miter"/>
<polygon points="778.0,240.0 771.1,244.0 771.1,252.0 778.0,256.0 784.9,252.0 784.9,244.0" fill="#000" stroke="#000" stroke-width="2.5" stroke-linejoin="miter"/>
<polygon points="887.4,166.0 880.5,170.0 880.5,178.0 887.4,182.0 894.4,178.0 894.4,170.0" fill="#000" stroke="#000" stroke-width="2.5" stroke-linejoin="miter"/>
<polyline points="230.8,392.6 449.7,217.3 559.1,219.7 778.0,286.2 887.4,289.0" stroke="#7d7d7d" stroke-width="1.7" stroke-dasharray="1.4 8.6" stroke-dashoffset="0.0"/>
<circle cx="230.8" cy="392.6" r="7.5" fill="#000" stroke="#000" stroke-width="2.5" stroke-linejoin="miter"/>
<circle cx="449.7" cy="217.3" r="7.5" fill="#000" stroke="#000" stroke-width="2.5" stroke-linejoin="miter"/>
<circle cx="559.1" cy="219.7" r="7.5" fill="#000" stroke="#000" stroke-width="2.5" stroke-linejoin="miter"/>
<circle cx="778.0" cy="286.2" r="7.5" fill="#000" stroke="#000" stroke-width="2.5" stroke-linejoin="miter"/>
<circle cx="887.4" cy="289.0" r="7.5" fill="#000" stroke="#000" stroke-width="2.5" stroke-linejoin="miter"/>
<polyline points="230.8,392.6 449.7,560.2 559.1,544.5 778.0,690.3" stroke="#000" stroke-width="2.9" stroke-dasharray="36 14" stroke-dashoffset="0.0"/>
<circle cx="230.8" cy="392.6" r="7.5" fill="#fff" stroke="#000" stroke-width="2.5" stroke-linejoin="miter"/>
<circle cx="449.7" cy="560.2" r="7.5" fill="#fff" stroke="#000" stroke-width="2.5" stroke-linejoin="miter"/>
<circle cx="559.1" cy="544.5" r="7.5" fill="#fff" stroke="#000" stroke-width="2.5" stroke-linejoin="miter"/>
<circle cx="778.0" cy="690.3" r="7.5" fill="#fff" stroke="#000" stroke-width="2.5" stroke-linejoin="miter"/>
<circle cx="887.4" cy="690.3" r="7.5" fill="#fff" stroke="#000" stroke-width="2.5" stroke-linejoin="miter"/>
<polyline points="230.8,392.6 449.7,305.0 559.1,300.0 778.0,272.0 887.4,278.0" stroke="#000" stroke-width="2.9" stroke-dasharray="29 25" stroke-dashoffset="0.0"/>
<polyline points="230.8,392.6 449.7,305.0 559.1,300.0 778.0,272.0 887.4,278.0" stroke="#7d7d7d" stroke-width="1.7" stroke-dasharray="1.4 7.4 1.4 43.8" stroke-dashoffset="-36.4"/>
<polygon points="230.8,400.1 238.8,387.1 222.8,387.1" fill="#000" stroke="#000" stroke-width="2.5" stroke-linejoin="miter"/>
<polygon points="449.7,312.5 457.7,299.5 441.7,299.5" fill="#000" stroke="#000" stroke-width="2.5" stroke-linejoin="miter"/>
<polygon points="559.1,307.5 567.1,294.5 551.1,294.5" fill="#000" stroke="#000" stroke-width="2.5" stroke-linejoin="miter"/>
<polygon points="778.0,279.5 786.0,266.5 770.0,266.5" fill="#000" stroke="#000" stroke-width="2.5" stroke-linejoin="miter"/>
<polygon points="887.4,285.5 895.4,272.5 879.4,272.5" fill="#000" stroke="#000" stroke-width="2.5" stroke-linejoin="miter"/>
<polyline points="230.8,392.6 449.7,199.8 559.1,207.4 778.0,232.0 887.4,324.0" stroke="#000" stroke-width="2.9" stroke-dasharray="36 14" stroke-dashoffset="0.0"/>
<polygon points="230.8,385.1 238.8,398.1 222.8,398.1" fill="#fff" stroke="#000" stroke-width="2.5" stroke-linejoin="miter"/>
<polygon points="449.7,192.3 457.7,205.3 441.7,205.3" fill="#fff" stroke="#000" stroke-width="2.5" stroke-linejoin="miter"/>
<polygon points="559.1,199.9 567.1,212.9 551.1,212.9" fill="#fff" stroke="#000" stroke-width="2.5" stroke-linejoin="miter"/>
<polygon points="778.0,224.5 786.0,237.5 770.0,237.5" fill="#fff" stroke="#000" stroke-width="2.5" stroke-linejoin="miter"/>
<polygon points="887.4,316.5 895.4,329.5 879.4,329.5" fill="#fff" stroke="#000" stroke-width="2.5" stroke-linejoin="miter"/>
<polyline points="230.8,392.6 449.7,311.3 559.1,302.4 778.0,487.7 887.4,522.6" stroke="#000" stroke-width="2.9" stroke-dasharray="24 16" stroke-dashoffset="0.0"/>
<polyline points="230.8,392.6 449.7,311.3 559.1,302.4 778.0,487.7 887.4,522.6" stroke="#7d7d7d" stroke-width="1.7" stroke-dasharray="1.4 38.6" stroke-dashoffset="-31.3"/>
<rect x="224.0" y="385.8" width="13.6" height="13.6" fill="#000" stroke="#000" stroke-width="2.5" stroke-linejoin="miter"/>
<rect x="442.9" y="304.5" width="13.6" height="13.6" fill="#000" stroke="#000" stroke-width="2.5" stroke-linejoin="miter"/>
<rect x="552.3" y="295.6" width="13.6" height="13.6" fill="#000" stroke="#000" stroke-width="2.5" stroke-linejoin="miter"/>
<rect x="771.2" y="480.9" width="13.6" height="13.6" fill="#000" stroke="#000" stroke-width="2.5" stroke-linejoin="miter"/>
<rect x="880.6" y="515.8" width="13.6" height="13.6" fill="#000" stroke="#000" stroke-width="2.5" stroke-linejoin="miter"/>
<polyline points="230.8,392.6 449.7,233.2 559.1,233.2 778.0,313.2 887.4,345.8" stroke="#000" stroke-width="2.9" stroke-dasharray="25 10" stroke-dashoffset="0.0"/>
<rect x="224.0" y="385.8" width="13.6" height="13.6" fill="#fff" stroke="#000" stroke-width="2.5" stroke-linejoin="miter"/>
<rect x="442.9" y="226.4" width="13.6" height="13.6" fill="#fff" stroke="#000" stroke-width="2.5" stroke-linejoin="miter"/>
<rect x="552.3" y="226.4" width="13.6" height="13.6" fill="#fff" stroke="#000" stroke-width="2.5" stroke-linejoin="miter"/>
<rect x="771.2" y="306.4" width="13.6" height="13.6" fill="#fff" stroke="#000" stroke-width="2.5" stroke-linejoin="miter"/>
<rect x="880.6" y="339.0" width="13.6" height="13.6" fill="#fff" stroke="#000" stroke-width="2.5" stroke-linejoin="miter"/>
<polyline points="230.8,392.6 449.7,302.9 559.1,222.0 778.0,293.6 887.4,297.5" stroke="#000" stroke-width="2.9"/>
<polygon points="230.8,383.4 240.0,392.6 230.8,401.8 221.6,392.6" fill="#000" stroke="#000" stroke-width="2.5" stroke-linejoin="miter"/>
<polygon points="449.7,293.7 458.9,302.9 449.7,312.1 440.5,302.9" fill="#000" stroke="#000" stroke-width="2.5" stroke-linejoin="miter"/>
<polygon points="559.1,212.8 568.3,222.0 559.1,231.2 549.9,222.0" fill="#000" stroke="#000" stroke-width="2.5" stroke-linejoin="miter"/>
<polygon points="778.0,284.4 787.2,293.6 778.0,302.8 768.8,293.6" fill="#000" stroke="#000" stroke-width="2.5" stroke-linejoin="miter"/>
<polygon points="887.4,288.3 896.6,297.5 887.4,306.7 878.2,297.5" fill="#000" stroke="#000" stroke-width="2.5" stroke-linejoin="miter"/>
<polyline points="230.8,392.6 449.7,354.3 559.1,376.0 778.0,237.2 887.4,241.6" stroke="#7d7d7d" stroke-width="1.7" stroke-dasharray="1.4 8.6" stroke-dashoffset="0.0"/>
<polygon points="230.8,383.4 240.0,392.6 230.8,401.8 221.6,392.6" fill="#fff" stroke="#000" stroke-width="2.5" stroke-linejoin="miter"/>
<polygon points="449.7,345.1 458.9,354.3 449.7,363.5 440.5,354.3" fill="#fff" stroke="#000" stroke-width="2.5" stroke-linejoin="miter"/>
<polygon points="559.1,366.8 568.3,376.0 559.1,385.2 549.9,376.0" fill="#fff" stroke="#000" stroke-width="2.5" stroke-linejoin="miter"/>
<polygon points="778.0,228.0 787.2,237.2 778.0,246.4 768.8,237.2" fill="#fff" stroke="#000" stroke-width="2.5" stroke-linejoin="miter"/>
<polygon points="887.4,232.4 896.6,241.6 887.4,250.8 878.2,241.6" fill="#fff" stroke="#000" stroke-width="2.5" stroke-linejoin="miter"/>
<polygon points="778.0,682.3 771.1,686.3 771.1,694.3 778.0,698.3 784.9,694.3 784.9,686.3" fill="#000" stroke="#000" stroke-width="2.5" stroke-linejoin="miter"/>
<polygon points="887.4,682.3 880.5,686.3 880.5,694.3 887.4,698.3 894.4,694.3 894.4,686.3" fill="#000" stroke="#000" stroke-width="2.5" stroke-linejoin="miter"/>
</g>
<g stroke-linejoin="round" fill="none">
<polyline points="227.7,1170.3 446.7,1469.4" stroke="#000" stroke-width="2.9"/>
<circle cx="227.7" cy="1170.3" r="7.5" fill="#000" stroke="#000" stroke-width="2.5" stroke-linejoin="miter"/>
<circle cx="446.7" cy="1469.4" r="7.5" fill="#000" stroke="#000" stroke-width="2.5" stroke-linejoin="miter"/>
<circle cx="556.3" cy="1469.4" r="7.5" fill="#000" stroke="#000" stroke-width="2.5" stroke-linejoin="miter"/>
<circle cx="775.3" cy="1469.4" r="7.5" fill="#000" stroke="#000" stroke-width="2.5" stroke-linejoin="miter"/>
<circle cx="884.8" cy="1469.4" r="7.5" fill="#000" stroke="#000" stroke-width="2.5" stroke-linejoin="miter"/>
<polyline points="227.7,1170.3 446.7,1469.4" stroke="#000" stroke-width="2.9"/>
<circle cx="227.7" cy="1170.3" r="7.5" fill="#fff" stroke="#000" stroke-width="2.5" stroke-linejoin="miter"/>
<circle cx="446.7" cy="1469.4" r="7.5" fill="#fff" stroke="#000" stroke-width="2.5" stroke-linejoin="miter"/>
<circle cx="556.3" cy="1469.4" r="7.5" fill="#fff" stroke="#000" stroke-width="2.5" stroke-linejoin="miter"/>
<circle cx="775.3" cy="1469.4" r="7.5" fill="#fff" stroke="#000" stroke-width="2.5" stroke-linejoin="miter"/>
<circle cx="884.8" cy="1469.4" r="7.5" fill="#fff" stroke="#000" stroke-width="2.5" stroke-linejoin="miter"/>
<polyline points="227.7,1170.3 446.7,1469.4" stroke="#000" stroke-width="2.9"/>
<polygon points="227.7,1177.8 235.7,1164.8 219.7,1164.8" fill="#000" stroke="#000" stroke-width="2.5" stroke-linejoin="miter"/>
<polygon points="446.7,1476.9 454.7,1463.9 438.7,1463.9" fill="#000" stroke="#000" stroke-width="2.5" stroke-linejoin="miter"/>
<polygon points="556.3,1476.9 564.3,1463.9 548.3,1463.9" fill="#000" stroke="#000" stroke-width="2.5" stroke-linejoin="miter"/>
<polygon points="775.3,1476.9 783.3,1463.9 767.3,1463.9" fill="#000" stroke="#000" stroke-width="2.5" stroke-linejoin="miter"/>
<polygon points="884.8,1476.9 892.8,1463.9 876.8,1463.9" fill="#000" stroke="#000" stroke-width="2.5" stroke-linejoin="miter"/>
<polyline points="227.7,1170.3 446.7,1469.4" stroke="#000" stroke-width="2.9"/>
<rect x="220.9" y="1163.5" width="13.6" height="13.6" fill="#000" stroke="#000" stroke-width="2.5" stroke-linejoin="miter"/>
<rect x="439.9" y="1462.6" width="13.6" height="13.6" fill="#000" stroke="#000" stroke-width="2.5" stroke-linejoin="miter"/>
<rect x="549.5" y="1462.6" width="13.6" height="13.6" fill="#000" stroke="#000" stroke-width="2.5" stroke-linejoin="miter"/>
<rect x="768.5" y="1462.6" width="13.6" height="13.6" fill="#000" stroke="#000" stroke-width="2.5" stroke-linejoin="miter"/>
<rect x="878.0" y="1462.6" width="13.6" height="13.6" fill="#000" stroke="#000" stroke-width="2.5" stroke-linejoin="miter"/>
<polyline points="227.7,1170.3 446.7,1469.4" stroke="#000" stroke-width="2.9"/>
<polygon points="227.7,1161.1 236.9,1170.3 227.7,1179.5 218.5,1170.3" fill="#000" stroke="#000" stroke-width="2.5" stroke-linejoin="miter"/>
<polygon points="446.7,1460.2 455.9,1469.4 446.7,1478.6 437.5,1469.4" fill="#000" stroke="#000" stroke-width="2.5" stroke-linejoin="miter"/>
<polygon points="556.3,1460.2 565.5,1469.4 556.3,1478.6 547.1,1469.4" fill="#000" stroke="#000" stroke-width="2.5" stroke-linejoin="miter"/>
<polygon points="775.3,1460.2 784.5,1469.4 775.3,1478.6 766.1,1469.4" fill="#000" stroke="#000" stroke-width="2.5" stroke-linejoin="miter"/>
<polygon points="884.8,1460.2 894.0,1469.4 884.8,1478.6 875.6,1469.4" fill="#000" stroke="#000" stroke-width="2.5" stroke-linejoin="miter"/>
<polyline points="227.7,1170.3 446.7,1301.0 556.3,1469.4" stroke="#000" stroke-width="2.9"/>
<polygon points="227.7,1161.1 236.9,1170.3 227.7,1179.5 218.5,1170.3" fill="#fff" stroke="#000" stroke-width="2.5" stroke-linejoin="miter"/>
<polygon points="446.7,1291.8 455.9,1301.0 446.7,1310.2 437.5,1301.0" fill="#fff" stroke="#000" stroke-width="2.5" stroke-linejoin="miter"/>
<polygon points="556.3,1460.2 565.5,1469.4 556.3,1478.6 547.1,1469.4" fill="#fff" stroke="#000" stroke-width="2.5" stroke-linejoin="miter"/>
<polygon points="775.3,1460.2 784.5,1469.4 775.3,1478.6 766.1,1469.4" fill="#fff" stroke="#000" stroke-width="2.5" stroke-linejoin="miter"/>
<polygon points="884.8,1460.2 894.0,1469.4 884.8,1478.6 875.6,1469.4" fill="#fff" stroke="#000" stroke-width="2.5" stroke-linejoin="miter"/>
<polyline points="227.7,1170.3 446.7,1469.4" stroke="#000" stroke-width="2.9"/>
<polygon points="227.7,1162.8 235.7,1175.8 219.7,1175.8" fill="#000" stroke="#000" stroke-width="2.5" stroke-linejoin="miter"/>
<polygon points="446.7,1461.9 454.7,1474.9 438.7,1474.9" fill="#000" stroke="#000" stroke-width="2.5" stroke-linejoin="miter"/>
<polygon points="556.3,1461.9 564.3,1474.9 548.3,1474.9" fill="#000" stroke="#000" stroke-width="2.5" stroke-linejoin="miter"/>
<polygon points="775.3,1461.9 783.3,1474.9 767.3,1474.9" fill="#000" stroke="#000" stroke-width="2.5" stroke-linejoin="miter"/>
<polygon points="884.8,1461.9 892.8,1474.9 876.8,1474.9" fill="#000" stroke="#000" stroke-width="2.5" stroke-linejoin="miter"/>
<polyline points="227.7,1170.3 446.7,1469.4" stroke="#000" stroke-width="2.9"/>
<polygon points="227.7,1177.8 235.7,1164.8 219.7,1164.8" fill="#fff" stroke="#000" stroke-width="2.5" stroke-linejoin="miter"/>
<polygon points="446.7,1476.9 454.7,1463.9 438.7,1463.9" fill="#fff" stroke="#000" stroke-width="2.5" stroke-linejoin="miter"/>
<polygon points="556.3,1476.9 564.3,1463.9 548.3,1463.9" fill="#fff" stroke="#000" stroke-width="2.5" stroke-linejoin="miter"/>
<polygon points="775.3,1476.9 783.3,1463.9 767.3,1463.9" fill="#fff" stroke="#000" stroke-width="2.5" stroke-linejoin="miter"/>
<polygon points="884.8,1476.9 892.8,1463.9 876.8,1463.9" fill="#fff" stroke="#000" stroke-width="2.5" stroke-linejoin="miter"/>
<polyline points="227.7,1170.3 446.7,1447.2 556.3,1469.4" stroke="#000" stroke-width="2.9"/>
<polygon points="227.7,1162.3 220.8,1166.3 220.8,1174.3 227.7,1178.3 234.6,1174.3 234.6,1166.3" fill="#000" stroke="#000" stroke-width="2.5" stroke-linejoin="miter"/>
<polygon points="446.7,1439.2 439.8,1443.2 439.8,1451.2 446.7,1455.2 453.7,1451.2 453.7,1443.2" fill="#000" stroke="#000" stroke-width="2.5" stroke-linejoin="miter"/>
<polygon points="556.3,1461.4 549.3,1465.4 549.3,1473.4 556.3,1477.4 563.2,1473.4 563.2,1465.4" fill="#000" stroke="#000" stroke-width="2.5" stroke-linejoin="miter"/>
<polygon points="775.3,1461.4 768.4,1465.4 768.4,1473.4 775.3,1477.4 782.2,1473.4 782.2,1465.4" fill="#000" stroke="#000" stroke-width="2.5" stroke-linejoin="miter"/>
<polygon points="884.8,1461.4 877.9,1465.4 877.9,1473.4 884.8,1477.4 891.7,1473.4 891.7,1465.4" fill="#000" stroke="#000" stroke-width="2.5" stroke-linejoin="miter"/>
<polyline points="227.7,1170.3 446.7,1469.4" stroke="#000" stroke-width="2.9"/>
<polygon points="227.7,1162.3 220.8,1166.3 220.8,1174.3 227.7,1178.3 234.6,1174.3 234.6,1166.3" fill="#fff" stroke="#000" stroke-width="2.5" stroke-linejoin="miter"/>
<polygon points="446.7,1461.4 439.8,1465.4 439.8,1473.4 446.7,1477.4 453.7,1473.4 453.7,1465.4" fill="#fff" stroke="#000" stroke-width="2.5" stroke-linejoin="miter"/>
<polygon points="556.3,1461.4 549.3,1465.4 549.3,1473.4 556.3,1477.4 563.2,1473.4 563.2,1465.4" fill="#fff" stroke="#000" stroke-width="2.5" stroke-linejoin="miter"/>
<polygon points="775.3,1461.4 768.4,1465.4 768.4,1473.4 775.3,1477.4 782.2,1473.4 782.2,1465.4" fill="#fff" stroke="#000" stroke-width="2.5" stroke-linejoin="miter"/>
<polygon points="884.8,1461.4 877.9,1465.4 877.9,1473.4 884.8,1477.4 891.7,1473.4 891.7,1465.4" fill="#fff" stroke="#000" stroke-width="2.5" stroke-linejoin="miter"/>
<polyline points="227.7,1170.3 446.7,1469.4 556.3,1447.2 775.3,1469.4 884.8,1362.0" stroke="#000" stroke-width="2.9" stroke-dasharray="33 7.5" stroke-dashoffset="26.6"/>
<polygon points="227.7,1162.3 220.8,1166.3 220.8,1174.3 227.7,1178.3 234.6,1174.3 234.6,1166.3" fill="#000" stroke="#000" stroke-width="2.5" stroke-linejoin="miter"/>
<polygon points="446.7,1461.4 439.8,1465.4 439.8,1473.4 446.7,1477.4 453.7,1473.4 453.7,1465.4" fill="#000" stroke="#000" stroke-width="2.5" stroke-linejoin="miter"/>
<polygon points="556.3,1439.2 549.3,1443.2 549.3,1451.2 556.3,1455.2 563.2,1451.2 563.2,1443.2" fill="#000" stroke="#000" stroke-width="2.5" stroke-linejoin="miter"/>
<polygon points="775.3,1461.4 768.4,1465.4 768.4,1473.4 775.3,1477.4 782.2,1473.4 782.2,1465.4" fill="#000" stroke="#000" stroke-width="2.5" stroke-linejoin="miter"/>
<polygon points="884.8,1354.0 877.9,1358.0 877.9,1366.0 884.8,1370.0 891.7,1366.0 891.7,1358.0" fill="#000" stroke="#000" stroke-width="2.5" stroke-linejoin="miter"/>
<polyline points="227.7,1170.3 446.7,1469.4" stroke="#000" stroke-width="2.9"/>
<polygon points="227.7,1162.3 220.8,1166.3 220.8,1174.3 227.7,1178.3 234.6,1174.3 234.6,1166.3" fill="#000" stroke="#000" stroke-width="2.5" stroke-linejoin="miter"/>
<polygon points="446.7,1461.4 439.8,1465.4 439.8,1473.4 446.7,1477.4 453.7,1473.4 453.7,1465.4" fill="#000" stroke="#000" stroke-width="2.5" stroke-linejoin="miter"/>
<polygon points="556.3,1461.4 549.3,1465.4 549.3,1473.4 556.3,1477.4 563.2,1473.4 563.2,1465.4" fill="#000" stroke="#000" stroke-width="2.5" stroke-linejoin="miter"/>
<polygon points="775.3,1461.4 768.4,1465.4 768.4,1473.4 775.3,1477.4 782.2,1473.4 782.2,1465.4" fill="#000" stroke="#000" stroke-width="2.5" stroke-linejoin="miter"/>
<polygon points="884.8,1461.4 877.9,1465.4 877.9,1473.4 884.8,1477.4 891.7,1473.4 891.7,1465.4" fill="#000" stroke="#000" stroke-width="2.5" stroke-linejoin="miter"/>
<polyline points="227.7,1170.3 446.7,1469.4 556.3,1447.2 775.3,1469.4" stroke="#000" stroke-width="2.9" stroke-dasharray="33 7.5" stroke-dashoffset="26.6"/>
<polygon points="227.7,1162.8 235.7,1175.8 219.7,1175.8" fill="#fff" stroke="#000" stroke-width="2.5" stroke-linejoin="miter"/>
<polygon points="446.7,1461.9 454.7,1474.9 438.7,1474.9" fill="#fff" stroke="#000" stroke-width="2.5" stroke-linejoin="miter"/>
<polygon points="556.3,1439.7 564.3,1452.7 548.3,1452.7" fill="#fff" stroke="#000" stroke-width="2.5" stroke-linejoin="miter"/>
<polygon points="775.3,1461.9 783.3,1474.9 767.3,1474.9" fill="#fff" stroke="#000" stroke-width="2.5" stroke-linejoin="miter"/>
<polygon points="884.8,1461.9 892.8,1474.9 876.8,1474.9" fill="#fff" stroke="#000" stroke-width="2.5" stroke-linejoin="miter"/>
<polygon points="227.7,1162.8 235.7,1175.8 219.7,1175.8" fill="#fff" stroke="#000" stroke-width="2.5" stroke-linejoin="miter"/>
</g>
<text x="892.0" y="1324.0" font-size="27.6" text-anchor="start" fill="#2a2a2a">n=1</text>
<rect x="152.6" y="1615.2" width="576.6" height="512.0" fill="none" stroke="#000" stroke-width="2.8"/>
<line x1="146.1" y1="2127.2" x2="152.6" y2="2127.2" stroke="#000" stroke-width="2.3" stroke-linecap="butt"/>
<text x="139.5" y="2135.6" font-size="27.6" text-anchor="end" fill="#111">0.1</text>
<line x1="146.1" y1="2054.1" x2="152.6" y2="2054.1" stroke="#000" stroke-width="2.3" stroke-linecap="butt"/>
<text x="139.5" y="2062.5" font-size="27.6" text-anchor="end" fill="#111">0.2</text>
<line x1="146.1" y1="1980.9" x2="152.6" y2="1980.9" stroke="#000" stroke-width="2.3" stroke-linecap="butt"/>
<text x="139.5" y="1989.3" font-size="27.6" text-anchor="end" fill="#111">0.3</text>
<line x1="146.1" y1="1907.8" x2="152.6" y2="1907.8" stroke="#000" stroke-width="2.3" stroke-linecap="butt"/>
<text x="139.5" y="1916.2" font-size="27.6" text-anchor="end" fill="#111">0.4</text>
<line x1="146.1" y1="1834.6" x2="152.6" y2="1834.6" stroke="#000" stroke-width="2.3" stroke-linecap="butt"/>
<text x="139.5" y="1843.0" font-size="27.6" text-anchor="end" fill="#111">0.5</text>
<line x1="146.1" y1="1761.5" x2="152.6" y2="1761.5" stroke="#000" stroke-width="2.3" stroke-linecap="butt"/>
<text x="139.5" y="1769.9" font-size="27.6" text-anchor="end" fill="#111">0.6</text>
<line x1="146.1" y1="1688.3" x2="152.6" y2="1688.3" stroke="#000" stroke-width="2.3" stroke-linecap="butt"/>
<text x="139.5" y="1696.7" font-size="27.6" text-anchor="end" fill="#111">0.7</text>
<line x1="146.1" y1="1615.2" x2="152.6" y2="1615.2" stroke="#000" stroke-width="2.3" stroke-linecap="butt"/>
<text x="139.5" y="1623.6" font-size="27.6" text-anchor="end" fill="#111">0.8</text>
<line x1="443.8" y1="1615.2" x2="443.8" y2="2127.2" stroke="#111" stroke-width="2.0" stroke-dasharray="2.4 2.7" stroke-linecap="butt"/>
<line x1="238.8" y1="2127.2" x2="238.8" y2="2133.7" stroke="#000" stroke-width="2.4" stroke-linecap="butt"/>
<line x1="345.8" y1="2127.2" x2="345.8" y2="2133.7" stroke="#000" stroke-width="2.4" stroke-linecap="butt"/>
<line x1="536.3" y1="2127.2" x2="536.3" y2="2133.7" stroke="#000" stroke-width="2.4" stroke-linecap="butt"/>
<line x1="635.8" y1="2127.2" x2="635.8" y2="2133.7" stroke="#000" stroke-width="2.4" stroke-linecap="butt"/>
<text x="239.6" y="2167.2" font-size="27.6" text-anchor="middle" fill="#2a2a2a">1 clone</text>
<text x="374.0" y="2167.2" font-size="27.6" text-anchor="middle" fill="#2a2a2a">44 clones</text>
<text x="535.3" y="2167.2" font-size="27.6" text-anchor="middle" fill="#2a2a2a">1 clone</text>
<text x="669.8" y="2167.2" font-size="27.6" text-anchor="middle" fill="#2a2a2a">44 clones</text>
<text x="178.0" y="1662.0" font-size="27.6" text-anchor="start" fill="#2a2a2a">t=16 hpi</text>
<text x="467.5" y="1662.0" font-size="27.6" text-anchor="start" fill="#2a2a2a">t=40 hpi</text>
<text transform="translate(73.0,1850) rotate(-90)" font-size="28.3" text-anchor="middle" fill="#2a2a2a">optical density at 600 nm (OD<tspan font-size="12" dy="5">600</tspan><tspan dy="-5">)</tspan></text>
<line x1="238.8" y1="1902.7" x2="238.8" y2="1985.1" stroke="#000" stroke-width="2.6" stroke-linecap="butt"/>
<line x1="230.8" y1="1902.7" x2="246.8" y2="1902.7" stroke="#000" stroke-width="2.6" stroke-linecap="butt"/>
<line x1="230.8" y1="1985.1" x2="246.8" y2="1985.1" stroke="#000" stroke-width="2.6" stroke-linecap="butt"/>
<circle cx="238.8" cy="1943.9" r="7.5" fill="#000" stroke="#000" stroke-width="2.6" stroke-linejoin="miter"/>
<line x1="346.3" y1="1673.3" x2="346.3" y2="1685.1" stroke="#000" stroke-width="2.6" stroke-linecap="butt"/>
<line x1="338.9" y1="1673.3" x2="353.7" y2="1673.3" stroke="#000" stroke-width="2.6" stroke-linecap="butt"/>
<line x1="338.9" y1="1685.1" x2="353.7" y2="1685.1" stroke="#000" stroke-width="2.6" stroke-linecap="butt"/>
<circle cx="346.3" cy="1679.2" r="6.6" fill="#000" stroke="#000" stroke-width="2.6" stroke-linejoin="miter"/>
<line x1="536.3" y1="1937.4" x2="536.3" y2="2050.0" stroke="#000" stroke-width="2.6" stroke-linecap="butt"/>
<line x1="528.3" y1="1937.4" x2="544.3" y2="1937.4" stroke="#000" stroke-width="2.6" stroke-linecap="butt"/>
<line x1="528.3" y1="2050.0" x2="544.3" y2="2050.0" stroke="#000" stroke-width="2.6" stroke-linecap="butt"/>
<circle cx="536.3" cy="1993.7" r="6.5" fill="#fff" stroke="#000" stroke-width="2.6" stroke-linejoin="miter"/>
<line x1="651.4" y1="1672.0" x2="651.4" y2="1685.0" stroke="#000" stroke-width="2.6" stroke-linecap="butt"/>
<line x1="644.4" y1="1672.0" x2="658.4" y2="1672.0" stroke="#000" stroke-width="2.6" stroke-linecap="butt"/>
<line x1="644.4" y1="1685.0" x2="658.4" y2="1685.0" stroke="#000" stroke-width="2.6" stroke-linecap="butt"/>
<circle cx="651.4" cy="1678.5" r="5.5" fill="#fff" stroke="#000" stroke-width="2.6" stroke-linejoin="miter"/>
<rect x="1189.1" y="49.5" width="125.5" height="2409.6" fill="#009a44"/>
<rect x="1264.4" y="159.0" width="50.2" height="54.8" fill="#e21e26"/>
<rect x="1214.2" y="323.3" width="100.4" height="54.8" fill="#e21e26"/>
<rect x="1214.2" y="487.6" width="100.4" height="54.8" fill="#e21e26"/>
<rect x="1214.2" y="542.4" width="100.4" height="54.8" fill="#e21e26"/>
<rect x="1214.2" y="597.1" width="100.4" height="54.8" fill="#e21e26"/>
<rect x="1214.2" y="651.9" width="100.4" height="54.8" fill="#e21e26"/>
<rect x="1214.2" y="706.7" width="100.4" height="54.8" fill="#e21e26"/>
<rect x="1239.3" y="816.2" width="75.3" height="54.8" fill="#e21e26"/>
<rect x="1214.2" y="925.7" width="100.4" height="54.8" fill="#e21e26"/>
<rect x="1214.2" y="980.5" width="100.4" height="54.8" fill="#e21e26"/>
<rect x="1214.2" y="1035.2" width="100.4" height="54.8" fill="#e21e26"/>
<rect x="1214.2" y="1090.0" width="100.4" height="54.8" fill="#e21e26"/>
<rect x="1214.2" y="1144.8" width="100.4" height="54.8" fill="#e21e26"/>
<rect x="1214.2" y="1199.5" width="100.4" height="54.8" fill="#e21e26"/>
<rect x="1214.2" y="1309.1" width="100.4" height="54.8" fill="#e21e26"/>
<rect x="1264.4" y="1363.8" width="50.2" height="54.8" fill="#e21e26"/>
<rect x="1214.2" y="1418.6" width="100.4" height="54.8" fill="#e21e26"/>
<rect x="1214.2" y="1473.4" width="100.4" height="54.8" fill="#e21e26"/>
<rect x="1214.2" y="1528.1" width="100.4" height="54.8" fill="#e21e26"/>
<rect x="1239.3" y="1582.9" width="75.3" height="54.8" fill="#e21e26"/>
<rect x="1264.4" y="1637.6" width="50.2" height="54.8" fill="#e21e26"/>
<rect x="1214.2" y="1692.4" width="100.4" height="54.8" fill="#e21e26"/>
<rect x="1214.2" y="1747.2" width="100.4" height="54.8" fill="#e21e26"/>
<rect x="1214.2" y="1801.9" width="100.4" height="54.8" fill="#e21e26"/>
<rect x="1264.4" y="1856.7" width="50.2" height="54.8" fill="#e21e26"/>
<rect x="1214.2" y="1911.5" width="100.4" height="54.8" fill="#e21e26"/>
<rect x="1214.2" y="1966.2" width="100.4" height="54.8" fill="#e21e26"/>
<rect x="1214.2" y="2021.0" width="100.4" height="54.8" fill="#e21e26"/>
<rect x="1214.2" y="2075.8" width="100.4" height="54.8" fill="#e21e26"/>
<rect x="1214.2" y="2130.5" width="100.4" height="54.8" fill="#e21e26"/>
<rect x="1214.2" y="2185.3" width="100.4" height="54.8" fill="#e21e26"/>
<rect x="1214.2" y="2240.0" width="100.4" height="54.8" fill="#e21e26"/>
<rect x="1214.2" y="2294.8" width="100.4" height="54.8" fill="#e21e26"/>
<rect x="1214.2" y="2349.6" width="100.4" height="54.8" fill="#e21e26"/>
<rect x="1214.2" y="2404.3" width="100.4" height="54.8" fill="#e21e26"/>
<path d="M1188.1 49.5H1315.6M1188.1 104.3H1315.6M1188.1 159.0H1315.6M1188.1 213.8H1315.6M1188.1 268.6H1315.6M1188.1 323.3H1315.6M1188.1 378.1H1315.6M1188.1 432.8H1315.6M1188.1 487.6H1315.6M1188.1 542.4H1315.6M1188.1 597.1H1315.6M1188.1 651.9H1315.6M1188.1 706.7H1315.6M1188.1 761.4H1315.6M1188.1 816.2H1315.6M1188.1 871.0H1315.6M1188.1 925.7H1315.6M1188.1 980.5H1315.6M1188.1 1035.2H1315.6M1188.1 1090.0H1315.6M1188.1 1144.8H1315.6M1188.1 1199.5H1315.6M1188.1 1254.3H1315.6M1188.1 1309.1H1315.6M1188.1 1363.8H1315.6M1188.1 1418.6H1315.6M1188.1 1473.4H1315.6M1188.1 1528.1H1315.6M1188.1 1582.9H1315.6M1188.1 1637.6H1315.6M1188.1 1692.4H1315.6M1188.1 1747.2H1315.6M1188.1 1801.9H1315.6M1188.1 1856.7H1315.6M1188.1 1911.5H1315.6M1188.1 1966.2H1315.6M1188.1 2021.0H1315.6M1188.1 2075.8H1315.6M1188.1 2130.5H1315.6M1188.1 2185.3H1315.6M1188.1 2240.0H1315.6M1188.1 2294.8H1315.6M1188.1 2349.6H1315.6M1188.1 2404.3H1315.6M1188.1 2459.1H1315.6M1189.1 49.5V2459.1M1214.2 49.5V2459.1M1239.3 49.5V2459.1M1264.4 49.5V2459.1M1289.5 49.5V2459.1M1314.6 49.5V2459.1" fill="none" stroke="#2e2a2b" stroke-width="2.2"/>
<rect x="1449.0" y="49.5" width="125.5" height="2409.6" fill="#009a44"/>
<path d="M1448.0 49.5H1575.5M1448.0 104.3H1575.5M1448.0 159.0H1575.5M1448.0 213.8H1575.5M1448.0 268.6H1575.5M1448.0 323.3H1575.5M1448.0 378.1H1575.5M1448.0 432.8H1575.5M1448.0 487.6H1575.5M1448.0 542.4H1575.5M1448.0 597.1H1575.5M1448.0 651.9H1575.5M1448.0 706.7H1575.5M1448.0 761.4H1575.5M1448.0 816.2H1575.5M1448.0 871.0H1575.5M1448.0 925.7H1575.5M1448.0 980.5H1575.5M1448.0 1035.2H1575.5M1448.0 1090.0H1575.5M1448.0 1144.8H1575.5M1448.0 1199.5H1575.5M1448.0 1254.3H1575.5M1448.0 1309.1H1575.5M1448.0 1363.8H1575.5M1448.0 1418.6H1575.5M1448.0 1473.4H1575.5M1448.0 1528.1H1575.5M1448.0 1582.9H1575.5M1448.0 1637.6H1575.5M1448.0 1692.4H1575.5M1448.0 1747.2H1575.5M1448.0 1801.9H1575.5M1448.0 1856.7H1575.5M1448.0 1911.5H1575.5M1448.0 1966.2H1575.5M1448.0 2021.0H1575.5M1448.0 2075.8H1575.5M1448.0 2130.5H1575.5M1448.0 2185.3H1575.5M1448.0 2240.0H1575.5M1448.0 2294.8H1575.5M1448.0 2349.6H1575.5M1448.0 2404.3H1575.5M1448.0 2459.1H1575.5M1449.0 49.5V2459.1M1474.1 49.5V2459.1M1499.2 49.5V2459.1M1524.3 49.5V2459.1M1549.4 49.5V2459.1M1574.5 49.5V2459.1" fill="none" stroke="#2e2a2b" stroke-width="2.2"/>
<text transform="translate(1138.6,83.7) scale(0.925,1)" font-size="27.2" text-anchor="start" fill="#231f20" stroke="none">1</text>
<text transform="translate(1398.8,83.7) scale(0.925,1)" font-size="27.2" text-anchor="start" fill="#231f20" stroke="none">1</text>
<text transform="translate(1138.6,139.1) scale(0.925,1)" font-size="27.2" text-anchor="start" fill="#231f20" stroke="none">2</text>
<text transform="translate(1398.8,139.1) scale(0.925,1)" font-size="27.2" text-anchor="start" fill="#231f20" stroke="none">2</text>
<text transform="translate(1138.6,192.7) scale(0.925,1)" font-size="27.2" text-anchor="start" fill="#231f20" stroke="none">3</text>
<text transform="translate(1398.8,192.7) scale(0.925,1)" font-size="27.2" text-anchor="start" fill="#231f20" stroke="none">3</text>
<text transform="translate(1138.6,246.8) scale(0.925,1)" font-size="27.2" text-anchor="start" fill="#231f20" stroke="none">4</text>
<text transform="translate(1398.8,246.8) scale(0.925,1)" font-size="27.2" text-anchor="start" fill="#231f20" stroke="none">4</text>
<text transform="translate(1138.6,300.7) scale(0.925,1)" font-size="27.2" text-anchor="start" fill="#231f20" stroke="none">5</text>
<text transform="translate(1398.8,300.7) scale(0.925,1)" font-size="27.2" text-anchor="start" fill="#231f20" stroke="none">5</text>
<text transform="translate(1138.6,354.8) scale(0.925,1)" font-size="27.2" text-anchor="start" fill="#231f20" stroke="none">6</text>
<text transform="translate(1398.8,354.8) scale(0.925,1)" font-size="27.2" text-anchor="start" fill="#231f20" stroke="none">6</text>
<text transform="translate(1138.6,408.6) scale(0.925,1)" font-size="27.2" text-anchor="start" fill="#231f20" stroke="none">7</text>
<text transform="translate(1398.8,408.6) scale(0.925,1)" font-size="27.2" text-anchor="start" fill="#231f20" stroke="none">7</text>
<text transform="translate(1138.6,462.7) scale(0.925,1)" font-size="27.2" text-anchor="start" fill="#231f20" stroke="none">8</text>
<text transform="translate(1398.8,462.7) scale(0.925,1)" font-size="27.2" text-anchor="start" fill="#231f20" stroke="none">8</text>
<text transform="translate(1138.6,516.6) scale(0.925,1)" font-size="27.2" text-anchor="start" fill="#231f20" stroke="none">9</text>
<text transform="translate(1398.8,516.6) scale(0.925,1)" font-size="27.2" text-anchor="start" fill="#231f20" stroke="none">9</text>
<text transform="translate(1138.6,571.0) scale(0.925,1)" font-size="27.2" text-anchor="start" fill="#231f20" stroke="none">10</text>
<text transform="translate(1398.8,571.0) scale(0.925,1)" font-size="27.2" text-anchor="start" fill="#231f20" stroke="none">10</text>
<text transform="translate(1138.6,625.2) scale(0.925,1)" font-size="27.2" text-anchor="start" fill="#231f20" stroke="none">11</text>
<text transform="translate(1398.8,625.2) scale(0.925,1)" font-size="27.2" text-anchor="start" fill="#231f20" stroke="none">11</text>
<text transform="translate(1138.6,679.6) scale(0.925,1)" font-size="27.2" text-anchor="start" fill="#231f20" stroke="none">12</text>
<text transform="translate(1398.8,679.6) scale(0.925,1)" font-size="27.2" text-anchor="start" fill="#231f20" stroke="none">12</text>
<text transform="translate(1138.6,733.3) scale(0.925,1)" font-size="27.2" text-anchor="start" fill="#231f20" stroke="none">13</text>
<text transform="translate(1398.8,733.3) scale(0.925,1)" font-size="27.2" text-anchor="start" fill="#231f20" stroke="none">13</text>
<text transform="translate(1138.6,794.4) scale(0.925,1)" font-size="27.2" text-anchor="start" fill="#231f20" stroke="none">14</text>
<text transform="translate(1398.8,794.4) scale(0.925,1)" font-size="27.2" text-anchor="start" fill="#231f20" stroke="none">14</text>
<text transform="translate(1138.6,849.8) scale(0.925,1)" font-size="27.2" text-anchor="start" fill="#231f20" stroke="none">15</text>
<text transform="translate(1398.8,849.8) scale(0.925,1)" font-size="27.2" text-anchor="start" fill="#231f20" stroke="none">15</text>
<text transform="translate(1138.6,904.7) scale(0.925,1)" font-size="27.2" text-anchor="start" fill="#231f20" stroke="none">16</text>
<text transform="translate(1398.8,904.7) scale(0.925,1)" font-size="27.2" text-anchor="start" fill="#231f20" stroke="none">16</text>
<text transform="translate(1138.6,957.9) scale(0.925,1)" font-size="27.2" text-anchor="start" fill="#231f20" stroke="none">17</text>
<text transform="translate(1398.8,957.9) scale(0.925,1)" font-size="27.2" text-anchor="start" fill="#231f20" stroke="none">17</text>
<text transform="translate(1138.6,1015.8) scale(0.925,1)" font-size="27.2" text-anchor="start" fill="#231f20" stroke="none">18</text>
<text transform="translate(1398.8,1015.8) scale(0.925,1)" font-size="27.2" text-anchor="start" fill="#231f20" stroke="none">18</text>
<text transform="translate(1138.6,1069.5) scale(0.925,1)" font-size="27.2" text-anchor="start" fill="#231f20" stroke="none">19</text>
<text transform="translate(1398.8,1069.5) scale(0.925,1)" font-size="27.2" text-anchor="start" fill="#231f20" stroke="none">19</text>
<text transform="translate(1138.6,1123.9) scale(0.925,1)" font-size="27.2" text-anchor="start" fill="#231f20" stroke="none">20</text>
<text transform="translate(1398.8,1123.9) scale(0.925,1)" font-size="27.2" text-anchor="start" fill="#231f20" stroke="none">20</text>
<text transform="translate(1138.6,1177.7) scale(0.925,1)" font-size="27.2" text-anchor="start" fill="#231f20" stroke="none">21</text>
<text transform="translate(1398.8,1177.7) scale(0.925,1)" font-size="27.2" text-anchor="start" fill="#231f20" stroke="none">21</text>
<text transform="translate(1138.6,1231.8) scale(0.925,1)" font-size="27.2" text-anchor="start" fill="#231f20" stroke="none">22</text>
<text transform="translate(1398.8,1231.8) scale(0.925,1)" font-size="27.2" text-anchor="start" fill="#231f20" stroke="none">22</text>
<text transform="translate(1138.6,1285.8) scale(0.925,1)" font-size="27.2" text-anchor="start" fill="#231f20" stroke="none">23</text>
<text transform="translate(1398.8,1285.8) scale(0.925,1)" font-size="27.2" text-anchor="start" fill="#231f20" stroke="none">23</text>
<text transform="translate(1138.6,1346.8) scale(0.925,1)" font-size="27.2" text-anchor="start" fill="#231f20" stroke="none">24</text>
<text transform="translate(1398.8,1346.8) scale(0.925,1)" font-size="27.2" text-anchor="start" fill="#231f20" stroke="none">24</text>
<text transform="translate(1138.6,1402.2) scale(0.925,1)" font-size="27.2" text-anchor="start" fill="#231f20" stroke="none">25</text>
<text transform="translate(1398.8,1402.2) scale(0.925,1)" font-size="27.2" text-anchor="start" fill="#231f20" stroke="none">25</text>
<text transform="translate(1138.6,1456.7) scale(0.925,1)" font-size="27.2" text-anchor="start" fill="#231f20" stroke="none">26</text>
<text transform="translate(1398.8,1456.7) scale(0.925,1)" font-size="27.2" text-anchor="start" fill="#231f20" stroke="none">26</text>
<text transform="translate(1138.6,1510.4) scale(0.925,1)" font-size="27.2" text-anchor="start" fill="#231f20" stroke="none">27</text>
<text transform="translate(1398.8,1510.4) scale(0.925,1)" font-size="27.2" text-anchor="start" fill="#231f20" stroke="none">27</text>
<text transform="translate(1138.6,1555.3) scale(0.925,1)" font-size="27.2" text-anchor="start" fill="#231f20" stroke="none">28</text>
<text transform="translate(1398.8,1555.3) scale(0.925,1)" font-size="27.2" text-anchor="start" fill="#231f20" stroke="none">28</text>
<text transform="translate(1138.6,1609.7) scale(0.925,1)" font-size="27.2" text-anchor="start" fill="#231f20" stroke="none">29</text>
<text transform="translate(1398.8,1609.7) scale(0.925,1)" font-size="27.2" text-anchor="start" fill="#231f20" stroke="none">29</text>
<text transform="translate(1138.6,1663.5) scale(0.925,1)" font-size="27.2" text-anchor="start" fill="#231f20" stroke="none">30</text>
<text transform="translate(1398.8,1663.5) scale(0.925,1)" font-size="27.2" text-anchor="start" fill="#231f20" stroke="none">30</text>
<text transform="translate(1138.6,1717.5) scale(0.925,1)" font-size="27.2" text-anchor="start" fill="#231f20" stroke="none">31</text>
<text transform="translate(1398.8,1717.5) scale(0.925,1)" font-size="27.2" text-anchor="start" fill="#231f20" stroke="none">31</text>
<text transform="translate(1138.6,1771.6) scale(0.925,1)" font-size="27.2" text-anchor="start" fill="#231f20" stroke="none">32</text>
<text transform="translate(1398.8,1771.6) scale(0.925,1)" font-size="27.2" text-anchor="start" fill="#231f20" stroke="none">32</text>
<text transform="translate(1138.6,1825.8) scale(0.925,1)" font-size="27.2" text-anchor="start" fill="#231f20" stroke="none">33</text>
<text transform="translate(1398.8,1825.8) scale(0.925,1)" font-size="27.2" text-anchor="start" fill="#231f20" stroke="none">33</text>
<text transform="translate(1138.6,1886.3) scale(0.925,1)" font-size="27.2" text-anchor="start" fill="#231f20" stroke="none">34</text>
<text transform="translate(1398.8,1886.3) scale(0.925,1)" font-size="27.2" text-anchor="start" fill="#231f20" stroke="none">34</text>
<text transform="translate(1138.6,1942.5) scale(0.925,1)" font-size="27.2" text-anchor="start" fill="#231f20" stroke="none">35</text>
<text transform="translate(1398.8,1942.5) scale(0.925,1)" font-size="27.2" text-anchor="start" fill="#231f20" stroke="none">35</text>
<text transform="translate(1138.6,1996.7) scale(0.925,1)" font-size="27.2" text-anchor="start" fill="#231f20" stroke="none">36</text>
<text transform="translate(1398.8,1996.7) scale(0.925,1)" font-size="27.2" text-anchor="start" fill="#231f20" stroke="none">36</text>
<text transform="translate(1138.6,2050.4) scale(0.925,1)" font-size="27.2" text-anchor="start" fill="#231f20" stroke="none">37</text>
<text transform="translate(1398.8,2050.4) scale(0.925,1)" font-size="27.2" text-anchor="start" fill="#231f20" stroke="none">37</text>
<text transform="translate(1138.6,2108.4) scale(0.925,1)" font-size="27.2" text-anchor="start" fill="#231f20" stroke="none">38</text>
<text transform="translate(1398.8,2108.4) scale(0.925,1)" font-size="27.2" text-anchor="start" fill="#231f20" stroke="none">38</text>
<text transform="translate(1138.6,2162.8) scale(0.925,1)" font-size="27.2" text-anchor="start" fill="#231f20" stroke="none">39</text>
<text transform="translate(1398.8,2162.8) scale(0.925,1)" font-size="27.2" text-anchor="start" fill="#231f20" stroke="none">39</text>
<text transform="translate(1138.6,2216.6) scale(0.925,1)" font-size="27.2" text-anchor="start" fill="#231f20" stroke="none">40</text>
<text transform="translate(1398.8,2216.6) scale(0.925,1)" font-size="27.2" text-anchor="start" fill="#231f20" stroke="none">40</text>
<text transform="translate(1138.6,2270.6) scale(0.925,1)" font-size="27.2" text-anchor="start" fill="#231f20" stroke="none">41</text>
<text transform="translate(1398.8,2270.6) scale(0.925,1)" font-size="27.2" text-anchor="start" fill="#231f20" stroke="none">41</text>
<text transform="translate(1138.6,2324.6) scale(0.925,1)" font-size="27.2" text-anchor="start" fill="#231f20" stroke="none">42</text>
<text transform="translate(1398.8,2324.6) scale(0.925,1)" font-size="27.2" text-anchor="start" fill="#231f20" stroke="none">42</text>
<text transform="translate(1138.6,2378.5) scale(0.925,1)" font-size="27.2" text-anchor="start" fill="#231f20" stroke="none">43</text>
<text transform="translate(1398.8,2378.5) scale(0.925,1)" font-size="27.2" text-anchor="start" fill="#231f20" stroke="none">43</text>
<text transform="translate(1138.6,2439.0) scale(0.925,1)" font-size="27.2" text-anchor="start" fill="#231f20" stroke="none">44</text>
<text transform="translate(1398.8,2439.0) scale(0.925,1)" font-size="27.2" text-anchor="start" fill="#231f20" stroke="none">44</text>
<text transform="translate(1201.0,35.4) scale(0.95,1)" font-size="26.6" text-anchor="start" fill="#231f20" stroke="none">1 clone</text>
<text transform="translate(1395.5,35.4) scale(0.95,1)" font-size="26.6" text-anchor="start" fill="#231f20" stroke="none">44 clones</text>
<text transform="translate(1199.6,2493.8) scale(0.925,1)" font-size="27.2" text-anchor="middle" fill="#231f20" stroke="none">0</text>
<text transform="translate(1247.1,2493.8) scale(0.925,1)" font-size="27.2" text-anchor="middle" fill="#231f20" stroke="none">1</text>
<text transform="translate(1298.6,2493.8) scale(0.925,1)" font-size="27.2" text-anchor="middle" fill="#231f20" stroke="none">2</text>
<text transform="translate(1235.6,2542.0) scale(0.985,1)" font-size="27.0" text-anchor="middle" fill="#231f20" stroke="none">time (dpi)</text>
<text transform="translate(1459.5,2493.8) scale(0.925,1)" font-size="27.2" text-anchor="middle" fill="#231f20" stroke="none">0</text>
<text transform="translate(1507.0,2493.8) scale(0.925,1)" font-size="27.2" text-anchor="middle" fill="#231f20" stroke="none">1</text>
<text transform="translate(1558.5,2493.8) scale(0.925,1)" font-size="27.2" text-anchor="middle" fill="#231f20" stroke="none">2</text>
<text transform="translate(1495.5,2542.0) scale(0.985,1)" font-size="27.0" text-anchor="middle" fill="#231f20" stroke="none">time (dpi)</text>
<rect x="820.3" y="2479.0" width="30.5" height="30.5" fill="#009a44" stroke="#2e2a2b" stroke-width="2.2"/>
<rect x="820.3" y="2528.0" width="30.5" height="40" fill="#e21e26" stroke="#2e2a2b" stroke-width="2.2"/>
<text x="859.0" y="2493.5" font-size="27.7" text-anchor="start" fill="#2a2a2a">no escape phage</text>
<text x="859.0" y="2544.0" font-size="27.7" text-anchor="start" fill="#2a2a2a">escape phage</text>
</svg>
</body>
</html>
